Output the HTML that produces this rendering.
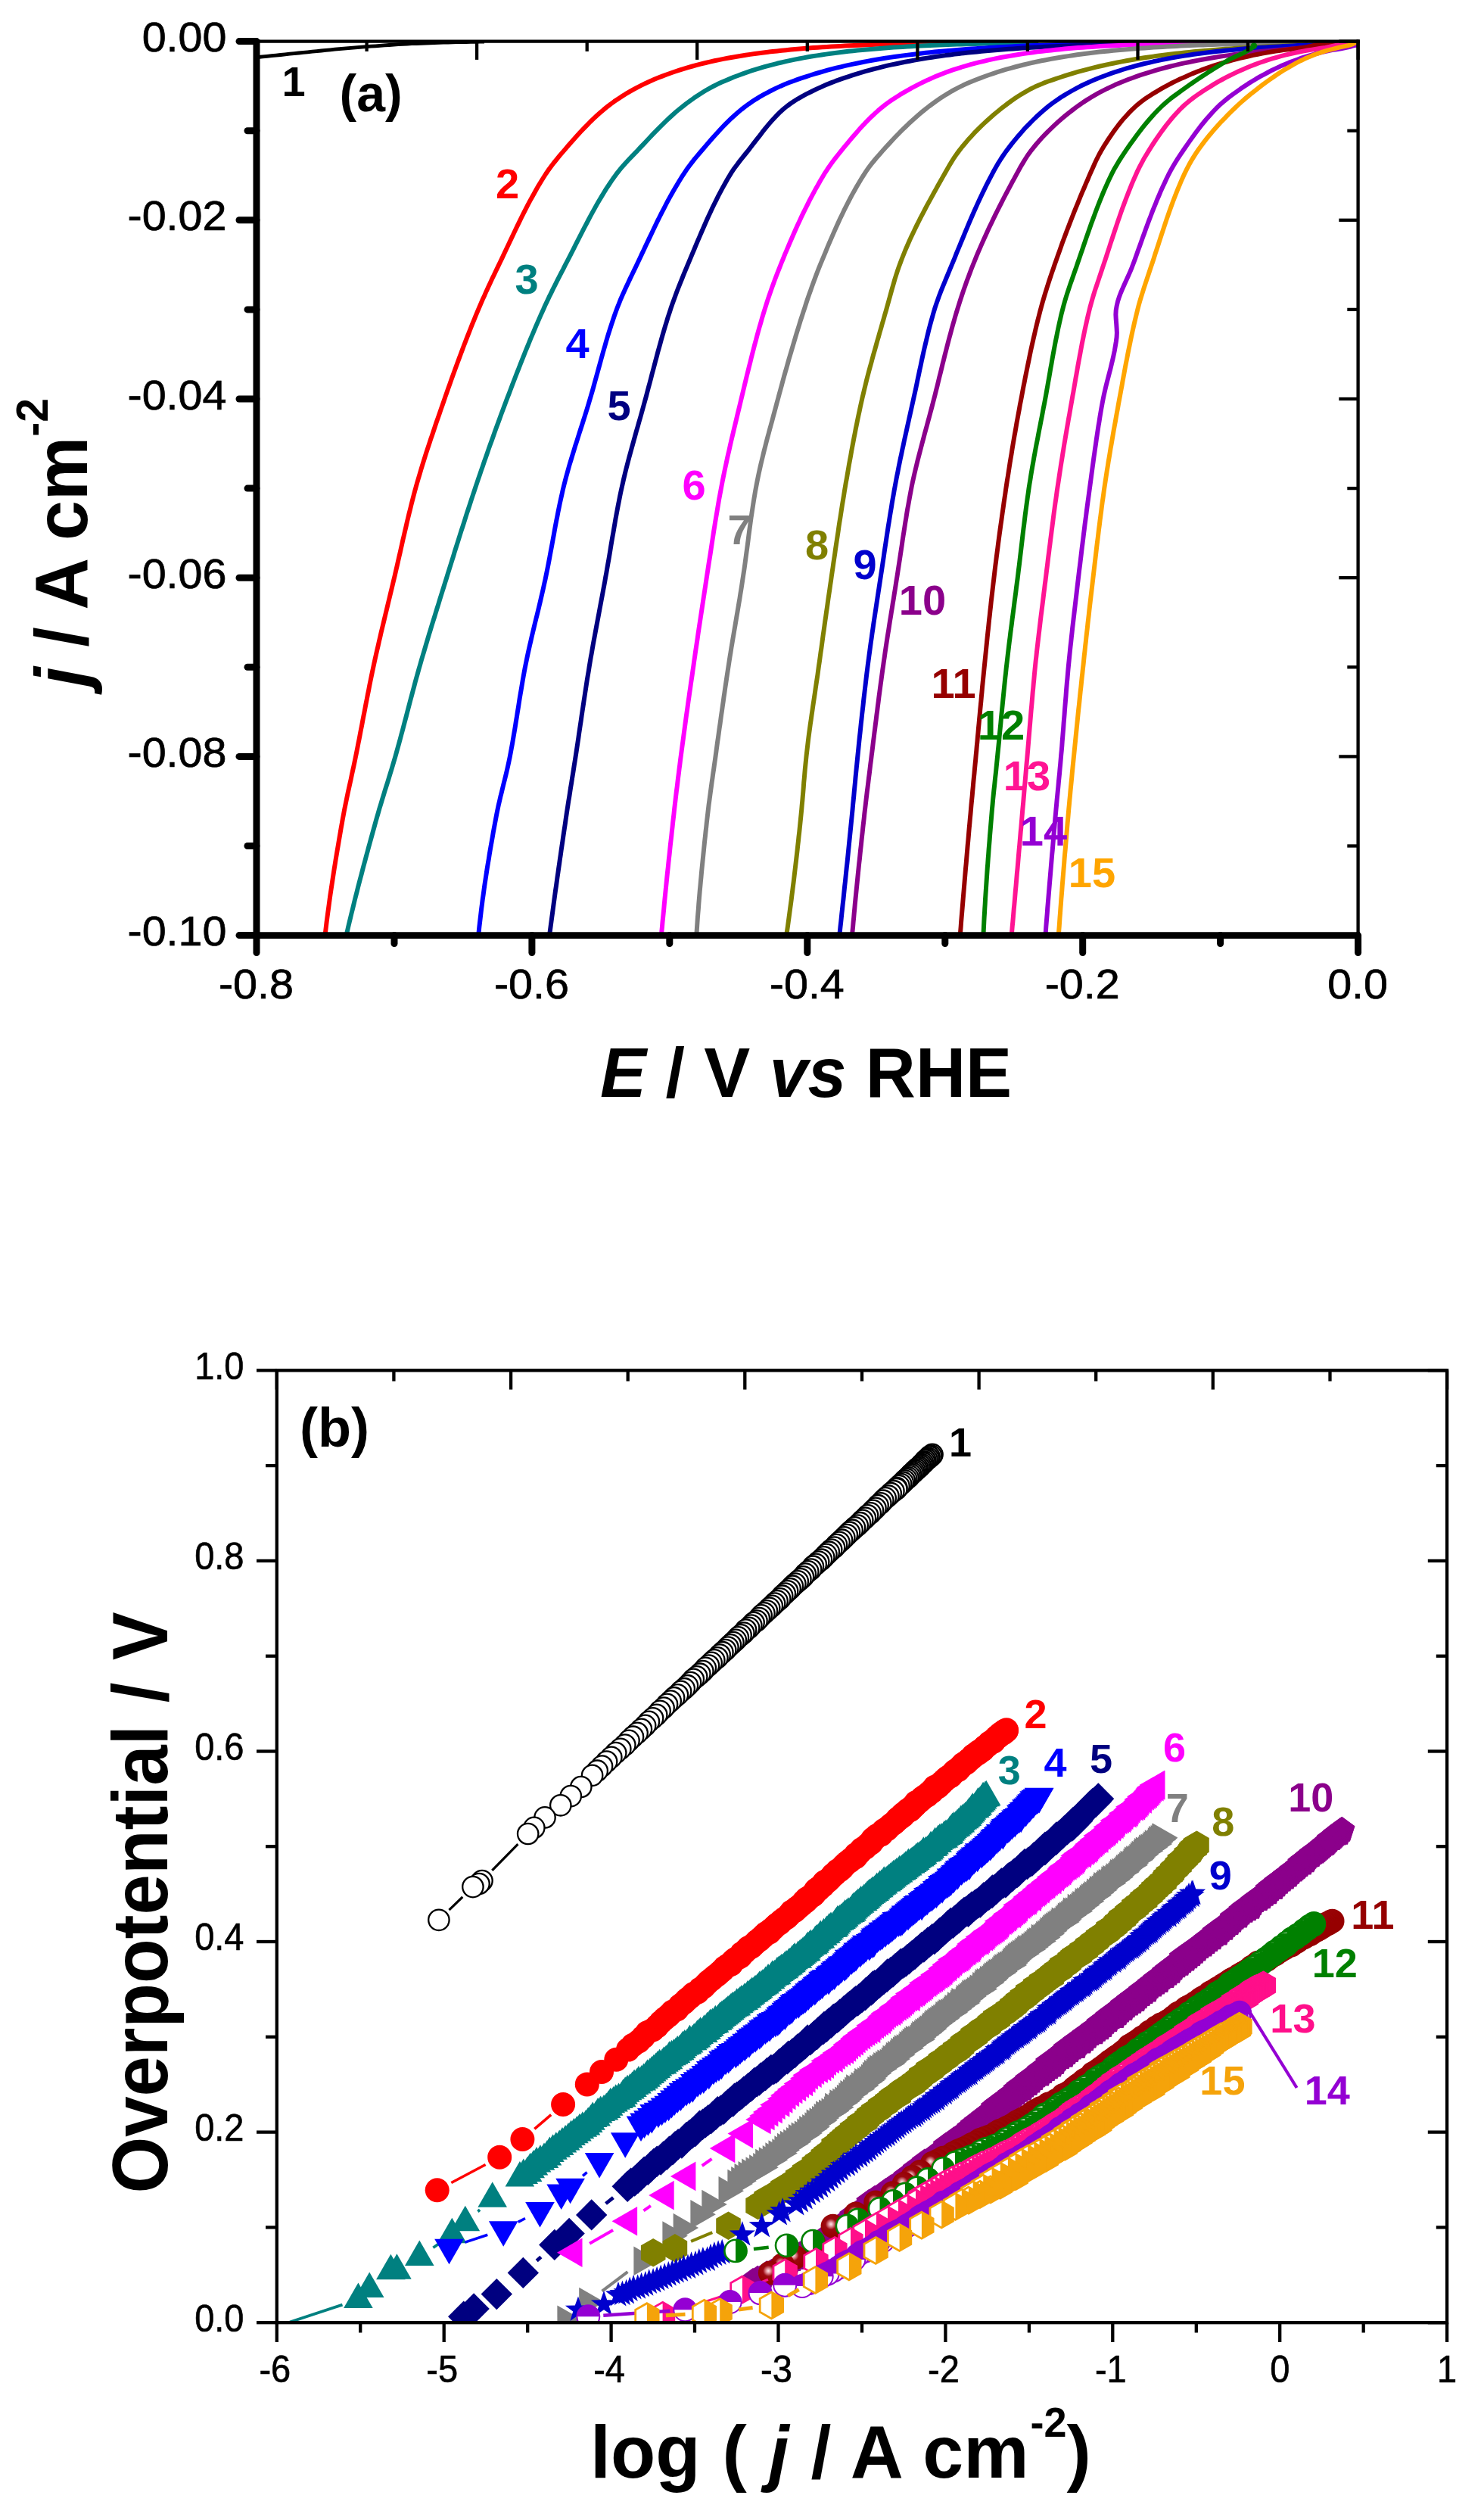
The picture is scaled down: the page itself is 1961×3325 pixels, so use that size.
<!DOCTYPE html>
<html><head><meta charset="utf-8"><title>Polarization curves and Tafel plots</title>
<style>html,body{margin:0;padding:0;background:#fff}svg{display:block}text{font-family:"Liberation Sans",sans-serif}.b{font-weight:bold}.bi{font-weight:bold;font-style:italic}</style></head><body>
<svg width="1961" height="3325" viewBox="0 0 1961 3325">
<rect width="1961" height="3325" fill="#fff"/>
<defs>
<radialGradient id="sg" cx="0.42" cy="0.42" r="0.5"><stop offset="0" stop-color="#fde8ea"/><stop offset="0.16" stop-color="#e8a0a8"/><stop offset="0.45" stop-color="#9c0810"/><stop offset="1" stop-color="#960000"/></radialGradient>
<marker id="m1" markerUnits="userSpaceOnUse" markerWidth="60" markerHeight="60" viewBox="-30 -30 60 60" refX="0" refY="0" orient="0" overflow="visible"><circle r="13.7" fill="#fff" stroke="#000000" stroke-width="2.3"/></marker>
<marker id="m2" markerUnits="userSpaceOnUse" markerWidth="60" markerHeight="60" viewBox="-30 -30 60 60" refX="0" refY="0" orient="0" overflow="visible"><circle r="16" fill="#FF0000"/></marker>
<marker id="m3" markerUnits="userSpaceOnUse" markerWidth="60" markerHeight="60" viewBox="-30 -30 60 60" refX="0" refY="0" orient="0" overflow="visible"><polygon points="0,-22.3 19.3,11.2 -19.3,11.2" fill="#008080"/></marker>
<marker id="m4" markerUnits="userSpaceOnUse" markerWidth="60" markerHeight="60" viewBox="-30 -30 60 60" refX="0" refY="0" orient="0" overflow="visible"><polygon points="0,22.3 19.3,-11.2 -19.3,-11.2" fill="#0000FF"/></marker>
<marker id="m5" markerUnits="userSpaceOnUse" markerWidth="60" markerHeight="60" viewBox="-30 -30 60 60" refX="0" refY="0" orient="0" overflow="visible"><polygon points="0,-20.7 20.7,0 0,20.7 -20.7,0" fill="#000080"/></marker>
<marker id="m6" markerUnits="userSpaceOnUse" markerWidth="60" markerHeight="60" viewBox="-30 -30 60 60" refX="0" refY="0" orient="0" overflow="visible"><polygon points="-22.3,0 11.2,-19.3 11.2,19.3" fill="#FF00FF"/></marker>
<marker id="m7" markerUnits="userSpaceOnUse" markerWidth="60" markerHeight="60" viewBox="-30 -30 60 60" refX="0" refY="0" orient="0" overflow="visible"><polygon points="22.3,0 -11.2,-19.3 -11.2,19.3" fill="#808080"/></marker>
<marker id="m8" markerUnits="userSpaceOnUse" markerWidth="60" markerHeight="60" viewBox="-30 -30 60 60" refX="0" refY="0" orient="0" overflow="visible"><polygon points="0,-18.8 16.3,-9.4 16.3,9.4 0,18.8 -16.3,9.4 -16.3,-9.4" fill="#808000"/></marker>
<marker id="m9" markerUnits="userSpaceOnUse" markerWidth="60" markerHeight="60" viewBox="-30 -30 60 60" refX="0" refY="0" orient="0" overflow="visible"><polygon points="0,-18 4.2,-5.8 17.1,-5.6 6.8,2.2 10.6,14.6 0,7.2 -10.6,14.6 -6.8,2.2 -17.1,-5.6 -4.2,-5.8" fill="#0000CD"/></marker>
<marker id="m10" markerUnits="userSpaceOnUse" markerWidth="60" markerHeight="60" viewBox="-30 -30 60 60" refX="0" refY="0" orient="0" overflow="visible"><polygon points="0,-18 17.1,-5.6 10.6,14.6 -10.6,14.6 -17.1,-5.6" fill="#8B008B"/></marker>
<marker id="m11" markerUnits="userSpaceOnUse" markerWidth="60" markerHeight="60" viewBox="-30 -30 60 60" refX="0" refY="0" orient="0" overflow="visible"><circle r="16" fill="url(#sg)"/></marker>
<marker id="m12" markerUnits="userSpaceOnUse" markerWidth="60" markerHeight="60" viewBox="-30 -30 60 60" refX="0" refY="0" orient="0" overflow="visible"><circle r="14.6" fill="#fff" stroke="#008000" stroke-width="2.6"/><path d="M0,-14.6A14.6,14.6 0 0 1 0,14.6Z" fill="#008000"/></marker>
<marker id="m13" markerUnits="userSpaceOnUse" markerWidth="60" markerHeight="60" viewBox="-30 -30 60 60" refX="0" refY="0" orient="0" overflow="visible"><polygon points="0,-17.5 15.2,-8.8 15.2,8.8 0,17.5 -15.2,8.8 -15.2,-8.8" fill="#fff" stroke="#FF0F8A" stroke-width="2.8" stroke-linejoin="miter"/><polygon points="0,-17.5 15.2,-8.8 15.2,8.8 0,17.5" fill="#FF0F8A"/></marker>
<marker id="m14" markerUnits="userSpaceOnUse" markerWidth="60" markerHeight="60" viewBox="-30 -30 60 60" refX="0" refY="0" orient="0" overflow="visible"><circle r="15" fill="#fff" stroke="#9400D3" stroke-width="2"/><path d="M-15,0A15,15 0 0 1 15,0Z" fill="#9400D3"/></marker>
<marker id="m15" markerUnits="userSpaceOnUse" markerWidth="60" markerHeight="60" viewBox="-30 -30 60 60" refX="0" refY="0" orient="0" overflow="visible"><polygon points="0,-17.5 15.2,-8.8 15.2,8.8 0,17.5 -15.2,8.8 -15.2,-8.8" fill="#fff" stroke="#F5A30A" stroke-width="2.8" stroke-linejoin="miter"/><polygon points="0,-17.5 15.2,-8.8 15.2,8.8 0,17.5" fill="#F5A30A"/></marker>
<clipPath id="cb"><rect x="365.8" y="1810.3" width="1586.3" height="1257.9"/></clipPath>
<clipPath id="ca"><rect x="339" y="53.4" width="1457.1" height="1184"/></clipPath>
</defs>
<g id="plot-a">
<g fill="none" stroke-width="6" stroke-linejoin="round" stroke-linecap="butt" clip-path="url(#ca)">
<polyline points="341,75.5 347,74.9 352.9,74.3 358.9,73.7 364.9,73.1 370.8,72.5 376.8,71.8 382.8,71.2 388.7,70.6 394.7,70 400.7,69.4 406.6,68.8 412.6,68.2 418.6,67.6 424.5,67 430.5,66.4 436.5,65.8 442.4,65.2 448.4,64.6 454.4,64.1 460.3,63.6 466.3,63.1 472.3,62.6 478.3,62.1 484.2,61.6 490.2,61.2 496.2,60.8 502.2,60.3 508.2,59.9 514.2,59.5 520.1,59.1 526.1,58.7 532.1,58.4 538.1,58 544.1,57.7 550.1,57.5 556.1,57.3 562.1,57.1 568.1,56.8 574,56.6 580,56.4 586,56.2 592,56.1 598,55.9 604,55.7 610,55.6 616,55.5 622,55.4 628,55.3 634,55.2 640,55.2" stroke="#000000" stroke-width="4.8"/>
<polyline points="429.5,1236 430.2,1230 430.9,1224.1 431.6,1218.1 432.4,1212.2 433.2,1206.2 434,1200.3 434.8,1194.4 435.6,1188.4 436.4,1182.5 437.3,1176.6 438.2,1170.6 439.1,1164.7 440,1158.8 440.9,1152.9 441.8,1147 442.8,1141 443.7,1135.1 444.7,1129.2 445.7,1123.3 446.7,1117.4 447.7,1111.5 448.7,1105.6 449.7,1099.7 450.7,1093.8 451.8,1087.9 452.8,1082 453.9,1076.2 455,1070.3 456.2,1064.4 457.4,1058.5 458.6,1052.7 459.8,1046.8 461.1,1041 462.4,1035.1 463.7,1029.3 464.9,1023.4 466.2,1017.5 467.5,1011.7 468.7,1005.8 469.9,1000 471.1,994.1 472.3,988.2 473.4,982.3 474.6,976.5 475.7,970.6 476.8,964.7 478,958.8 479.1,952.9 480.2,947 481.4,941.2 482.5,935.3 483.6,929.4 484.8,923.5 485.9,917.6 487.1,911.8 488.2,905.9 489.4,900 490.6,894.2 491.8,888.3 493.1,882.4 494.3,876.6 495.6,870.7 496.9,864.9 498.2,859.1 499.6,853.2 500.9,847.4 502.3,841.5 503.6,835.7 505,829.9 506.4,824.1 507.8,818.2 509.2,812.4 510.6,806.6 512,800.8 513.4,794.9 514.8,789.1 516.2,783.3 517.6,777.5 519,771.6 520.4,765.8 521.8,760 523.1,754.2 524.5,748.3 525.8,742.5 527.1,736.6 528.5,730.8 529.8,724.9 531.1,719.1 532.4,713.2 533.8,707.4 535.1,701.6 536.5,695.7 537.8,689.9 539.2,684.1 540.6,678.2 542.1,672.4 543.5,666.6 545,660.8 546.5,655 548,649.3 549.6,643.5 551.2,637.7 552.9,632 554.6,626.3 556.3,620.5 558,614.8 559.8,609.1 561.6,603.4 563.4,597.7 565.3,591.9 567.2,586.3 569,580.6 571,574.9 572.9,569.2 574.8,563.5 576.7,557.8 578.7,552.2 580.7,546.5 582.6,540.9 584.6,535.2 586.6,529.5 588.5,523.9 590.5,518.2 592.5,512.6 594.5,507 596.5,501.3 598.5,495.7 600.6,490 602.6,484.4 604.7,478.8 606.8,473.1 608.9,467.5 611,461.9 613.1,456.3 615.3,450.7 617.4,445.1 619.6,439.6 621.8,434 624,428.4 626.3,422.9 628.5,417.4 630.8,411.8 633.2,406.3 635.5,400.8 637.9,395.3 640.4,389.9 642.8,384.4 645.3,379 647.9,373.5 650.4,368.1 653,362.7 655.6,357.3 658.2,351.9 660.8,346.5 663.4,341.1 665.9,335.7 668.5,330.2 671.1,324.8 673.7,319.3 676.2,313.9 678.8,308.5 681.4,303 684,297.6 686.7,292.2 689.3,286.8 692,281.4 694.7,276.1 697.5,270.7 700.3,265.4 703.2,260.2 706.1,255 709,249.8 712,244.6 715.1,239.5 718.2,234.5 721.4,229.5 724.7,224.6 728.3,219.8 731.9,215 735.7,210.3 739.5,205.6 743.4,201.1 747.3,196.6 751.2,192 755.2,187.5 759.2,183 763.2,178.5 767.3,174 771.5,169.6 775.7,165.3 779.9,161 784.2,156.9 788.6,152.8 793.1,148.8 797.6,144.9 802.2,141.2 806.8,137.6 811.6,134.1 816.6,130.7 821.6,127.4 826.7,124.2 831.9,121.2 837.2,118.2 842.4,115.3 847.7,112.6 853.1,110 858.6,107.5 864.1,105.1 869.6,102.8 875.2,100.6 880.8,98.5 886.4,96.5 892.1,94.5 897.8,92.6 903.5,90.8 909.2,89.1 915,87.5 920.8,85.9 926.6,84.4 932.4,83 938.2,81.6 944.1,80.3 949.9,79.1 955.8,77.9 961.7,76.8 967.6,75.7 973.5,74.7 979.4,73.7 985.3,72.7 991.2,71.9 997.2,71 1003.1,70.2 1009,69.5 1015,68.7 1020.9,68 1026.9,67.4 1032.8,66.7 1038.8,66.2 1044.8,65.6 1050.7,65 1056.7,64.5 1062.7,64 1068.6,63.6 1074.6,63.1 1080.6,62.7 1086.6,62.3 1092.5,61.9 1098.5,61.6 1104.5,61.2 1110.5,60.9 1116.5,60.6 1122.4,60.3 1128.4,60 1134.4,59.8 1140.4,59.5 1146.4,59.3 1152.4,59 1158.3,58.8 1164.3,58.6 1170.3,58.4 1176.3,58.2 1182.3,58.1 1188.3,57.9 1194.3,57.8 1200.2,57.7 1206.2,57.5 1212.2,57.4 1218.2,57.2 1224.2,57 1230.2,56.8 1236.2,56.6 1242.1,56.3 1248.1,56 1254.1,55.8 1260.1,55.5 1266.1,55.1 1272.1,54.8" stroke="#FF0000"/>
<polyline points="457.5,1236 458.9,1230.2 460.2,1224.3 461.6,1218.5 463,1212.7 464.4,1206.9 465.9,1201 467.3,1195.2 468.7,1189.4 470.2,1183.6 471.7,1177.8 473.1,1172 474.6,1166.2 476.1,1160.4 477.7,1154.6 479.2,1148.8 480.7,1143.1 482.3,1137.3 483.8,1131.5 485.4,1125.7 486.9,1119.9 488.5,1114.2 490.1,1108.4 491.7,1102.6 493.3,1096.9 494.9,1091.1 496.5,1085.3 498.1,1079.6 499.8,1073.8 501.4,1068.1 503.2,1062.4 504.9,1056.6 506.7,1050.9 508.4,1045.2 510.2,1039.5 512,1033.8 513.8,1028 515.5,1022.3 517.3,1016.6 519,1010.9 520.7,1005.1 522.4,999.4 524,993.6 525.6,987.9 527.2,982.1 528.8,976.3 530.3,970.5 531.9,964.8 533.4,959 534.9,953.2 536.5,947.4 538,941.6 539.5,935.8 541,930 542.5,924.2 544.1,918.4 545.6,912.7 547.2,906.9 548.7,901.1 550.3,895.3 551.9,889.6 553.5,883.8 555.2,878 556.8,872.3 558.5,866.5 560.2,860.8 561.9,855.1 563.6,849.3 565.3,843.6 567,837.9 568.8,832.1 570.5,826.4 572.3,820.7 574.1,815 575.8,809.3 577.6,803.5 579.4,797.8 581.1,792.1 582.9,786.4 584.7,780.7 586.5,775 588.3,769.2 590.1,763.5 591.8,757.8 593.6,752.1 595.4,746.4 597.2,740.7 599,735 600.7,729.2 602.5,723.5 604.3,717.8 606.1,712.1 607.9,706.4 609.7,700.7 611.6,695 613.4,689.3 615.2,683.6 617,677.9 618.9,672.2 620.8,666.5 622.6,660.8 624.5,655.1 626.4,649.5 628.3,643.8 630.2,638.1 632.1,632.5 634.1,626.8 636,621.1 638,615.5 639.9,609.8 641.9,604.2 643.9,598.5 645.8,592.9 647.8,587.2 649.9,581.6 651.9,575.9 653.9,570.3 655.9,564.7 658,559.1 660.1,553.4 662.1,547.8 664.2,542.2 666.3,536.6 668.4,531 670.5,525.4 672.7,519.8 674.8,514.2 676.9,508.6 679.1,503 681.2,497.5 683.4,491.9 685.6,486.3 687.8,480.7 690,475.1 692.2,469.6 694.4,464 696.7,458.5 699,452.9 701.2,447.4 703.6,441.9 705.9,436.4 708.2,430.9 710.6,425.4 713,419.9 715.4,414.4 717.9,409 720.3,403.5 722.9,398.1 725.4,392.7 728.1,387.3 730.7,381.9 733.4,376.6 736.1,371.2 738.8,365.9 741.5,360.6 744.3,355.3 747,349.9 749.8,344.6 752.5,339.3 755.3,333.9 758,328.6 760.7,323.2 763.4,317.8 766.2,312.4 768.9,307.1 771.7,301.7 774.5,296.3 777.3,291 780.1,285.7 783,280.4 785.9,275.1 788.8,269.9 791.8,264.7 794.9,259.6 798,254.5 801.1,249.4 804.4,244.5 807.6,239.6 811,234.7 814.5,229.9 818.1,225.3 821.9,220.7 825.9,216.2 830,211.8 834.2,207.4 838.3,203.1 842.5,198.8 846.6,194.4 850.7,190.1 854.8,185.7 859,181.3 863.1,176.9 867.3,172.6 871.5,168.3 875.8,164.1 880.1,159.9 884.5,155.8 888.9,151.7 893.3,147.8 897.9,144 902.5,140.3 907.2,136.6 912,133.1 916.9,129.6 921.9,126.2 926.9,123 932.1,119.8 937.2,116.8 942.5,114 947.8,111.3 953.2,108.8 958.7,106.4 964.3,104.1 969.8,101.8 975.4,99.7 981,97.6 986.7,95.6 992.3,93.7 998,91.9 1003.8,90.1 1009.5,88.4 1015.3,86.8 1021.1,85.3 1026.9,83.8 1032.7,82.5 1038.5,81.1 1044.4,79.9 1050.2,78.6 1056.1,77.5 1062,76.4 1067.9,75.3 1073.8,74.3 1079.7,73.4 1085.6,72.5 1091.5,71.6 1097.5,70.8 1103.4,70 1109.3,69.2 1115.3,68.5 1121.2,67.8 1127.2,67.2 1133.1,66.6 1139.1,66 1145.1,65.4 1151,64.9 1157,64.4 1163,63.9 1168.9,63.5 1174.9,63 1180.9,62.6 1186.8,62.2 1192.8,61.9 1198.8,61.5 1204.8,61.2 1210.7,60.8 1216.7,60.5 1222.7,60.3 1228.7,60 1234.6,59.7 1240.6,59.5 1246.6,59.2 1252.6,59 1258.6,58.8 1264.6,58.6 1270.5,58.4 1276.5,58.2 1282.5,58.1 1288.5,57.9 1294.5,57.8 1300.5,57.6 1306.4,57.5 1312.4,57.4 1318.4,57.2 1324.4,57 1330.4,56.8 1336.3,56.6 1342.3,56.3 1348.3,56 1354.3,55.8 1360.3,55.4 1366.2,55.1 1372.2,54.8" stroke="#008080"/>
<polyline points="632.2,1236 632.8,1230 633.4,1224 634.1,1218.1 634.8,1212.1 635.5,1206.1 636.2,1200.2 637,1194.2 637.7,1188.3 638.6,1182.3 639.4,1176.4 640.2,1170.5 641.1,1164.5 642,1158.6 642.9,1152.7 643.8,1146.8 644.8,1140.8 645.8,1134.9 646.7,1129 647.7,1123.1 648.7,1117.2 649.8,1111.3 650.8,1105.4 651.8,1099.5 652.9,1093.6 654,1087.7 655.1,1081.9 656.2,1076 657.4,1070.1 658.6,1064.3 660,1058.4 661.3,1052.6 662.8,1046.8 664.2,1040.9 665.6,1035.1 667.1,1029.3 668.5,1023.5 669.9,1017.6 671.2,1011.8 672.5,1005.9 673.7,1000.1 674.8,994.2 675.9,988.3 677,982.4 678,976.5 679,970.6 680,964.7 681,958.8 681.9,952.8 682.9,946.9 683.8,941 684.8,935.1 685.7,929.1 686.6,923.2 687.6,917.3 688.6,911.4 689.6,905.5 690.6,899.6 691.6,893.7 692.7,887.8 693.8,881.9 695,876 696.2,870.2 697.4,864.3 698.7,858.5 700,852.6 701.4,846.8 702.7,840.9 704.1,835.1 705.5,829.3 706.9,823.4 708.3,817.6 709.8,811.8 711.2,806 712.6,800.1 714,794.3 715.3,788.5 716.7,782.6 718,776.8 719.3,770.9 720.6,765.1 721.8,759.2 723,753.3 724.2,747.4 725.3,741.6 726.4,735.7 727.5,729.8 728.6,723.9 729.7,718 730.8,712 731.9,706.1 732.9,700.2 734,694.3 735.1,688.5 736.3,682.6 737.4,676.7 738.6,670.8 739.8,665 741.1,659.1 742.4,653.3 743.7,647.4 745.1,641.6 746.6,635.8 748.1,630.1 749.7,624.3 751.3,618.5 752.9,612.8 754.7,607 756.4,601.3 758.2,595.6 759.9,589.8 761.8,584.1 763.6,578.4 765.4,572.7 767.2,567 769.1,561.2 770.9,555.5 772.7,549.8 774.5,544.1 776.3,538.3 778,532.6 779.7,526.9 781.4,521.1 783.1,515.3 784.7,509.6 786.3,503.8 787.9,498 789.5,492.2 791.1,486.4 792.7,480.6 794.3,474.8 795.9,469 797.5,463.2 799.2,457.5 800.8,451.7 802.5,446 804.3,440.2 806.1,434.5 807.9,428.8 809.8,423.2 811.7,417.5 813.7,411.9 815.8,406.3 818,400.8 820.2,395.2 822.6,389.7 825.1,384.3 827.6,378.8 830.1,373.4 832.7,367.9 835.3,362.5 837.9,357.1 840.5,351.7 843.1,346.3 845.6,340.9 848.2,335.4 850.8,330 853.3,324.5 855.9,319.1 858.5,313.6 861.1,308.2 863.7,302.8 866.3,297.3 868.9,291.9 871.6,286.5 874.3,281.1 877.1,275.8 879.8,270.5 882.6,265.2 885.5,259.9 888.4,254.7 891.4,249.5 894.4,244.4 897.5,239.3 900.6,234.2 903.8,229.3 907.1,224.3 910.6,219.5 914.3,214.7 918,209.9 921.8,205.3 925.7,200.7 929.6,196.2 933.5,191.6 937.5,187 941.4,182.5 945.5,178 949.6,173.5 953.7,169 957.9,164.7 962.2,160.4 966.5,156.2 970.9,152.2 975.4,148.2 979.9,144.5 984.6,140.9 989.3,137.4 994.2,134.1 999.2,130.8 1004.4,127.7 1009.7,124.7 1015,121.8 1020.4,119 1025.8,116.4 1031.2,113.9 1036.7,111.5 1042.2,109.3 1047.9,107.2 1053.5,105.2 1059.2,103.2 1064.9,101.3 1070.6,99.5 1076.3,97.7 1082.1,96 1087.8,94.3 1093.6,92.7 1099.4,91.2 1105.2,89.7 1111,88.3 1116.9,86.9 1122.7,85.6 1128.6,84.4 1134.4,83.2 1140.3,82 1146.2,80.9 1152.1,79.8 1158,78.8 1163.9,77.8 1169.8,76.8 1175.8,75.9 1181.7,75 1187.6,74.2 1193.6,73.4 1199.5,72.6 1205.5,71.9 1211.4,71.2 1217.4,70.5 1223.3,69.8 1229.3,69.2 1235.2,68.6 1241.2,68 1247.2,67.4 1253.1,66.9 1259.1,66.4 1265.1,65.9 1271.1,65.5 1277,65 1283,64.6 1289,64.2 1295,63.8 1301,63.4 1306.9,63 1312.9,62.7 1318.9,62.3 1324.9,62 1330.9,61.7 1336.9,61.4 1342.9,61.1 1348.8,60.8 1354.8,60.6 1360.8,60.3 1366.8,60.1 1372.8,59.9 1378.8,59.7 1384.8,59.5 1390.8,59.2 1396.8,59.1 1402.7,58.9 1408.7,58.7 1414.7,58.5 1420.7,58.4 1426.7,58.2 1432.7,58.1 1438.7,58 1444.7,57.8 1450.7,57.7 1456.7,57.6 1462.7,57.5 1468.6,57.4 1474.6,57.2 1480.6,57.1 1486.6,56.9 1492.6,56.7 1498.6,56.5 1504.6,56.3 1510.6,56.1 1516.6,55.9 1522.6,55.6 1528.5,55.3 1534.5,55.1 1540.5,54.8" stroke="#0000FF"/>
<polyline points="726,1236 726.8,1230.1 727.6,1224.1 728.4,1218.2 729.2,1212.2 730,1206.3 730.8,1200.4 731.6,1194.4 732.4,1188.5 733.2,1182.6 734,1176.6 734.9,1170.7 735.7,1164.8 736.5,1158.8 737.4,1152.9 738.2,1147 739.1,1141 739.9,1135.1 740.8,1129.2 741.6,1123.3 742.5,1117.3 743.4,1111.4 744.2,1105.5 745.1,1099.5 746,1093.6 746.9,1087.7 747.7,1081.8 748.6,1075.8 749.5,1069.9 750.4,1064 751.3,1058.1 752.3,1052.2 753.2,1046.2 754.1,1040.3 755.1,1034.4 756,1028.5 757,1022.6 757.9,1016.7 758.8,1010.7 759.8,1004.8 760.7,998.9 761.6,993 762.5,987.1 763.4,981.1 764.3,975.2 765.1,969.3 766,963.4 766.9,957.4 767.8,951.5 768.6,945.6 769.5,939.6 770.4,933.7 771.3,927.8 772.2,921.9 773.1,915.9 774,910 774.9,904.1 775.8,898.2 776.8,892.3 777.8,886.4 778.7,880.5 779.7,874.5 780.7,868.6 781.8,862.7 782.8,856.8 783.8,850.9 784.9,845.1 786,839.2 787.1,833.3 788.2,827.4 789.3,821.5 790.4,815.6 791.5,809.7 792.6,803.8 793.7,797.9 794.8,792 795.9,786.2 797,780.3 798.1,774.4 799.2,768.5 800.2,762.6 801.3,756.7 802.3,750.8 803.3,744.9 804.4,739 805.4,733.1 806.4,727.1 807.3,721.2 808.3,715.3 809.3,709.4 810.4,703.5 811.4,697.6 812.4,691.7 813.4,685.8 814.5,679.9 815.6,674 816.7,668.1 817.9,662.2 819,656.4 820.2,650.5 821.5,644.7 822.8,638.8 824.1,633 825.5,627.2 826.9,621.4 828.4,615.6 829.9,609.8 831.4,604 833,598.2 834.6,592.4 836.2,586.6 837.8,580.9 839.4,575.1 841,569.3 842.7,563.6 844.3,557.8 846,552 847.6,546.2 849.2,540.5 850.8,534.7 852.4,528.9 854,523.1 855.5,517.3 857,511.5 858.6,505.7 860.1,499.9 861.6,494.1 863.2,488.3 864.7,482.5 866.2,476.7 867.8,470.9 869.3,465.1 870.9,459.4 872.5,453.6 874.1,447.8 875.7,442.1 877.4,436.3 879.1,430.6 880.9,424.9 882.6,419.1 884.5,413.5 886.3,407.8 888.3,402.1 890.3,396.5 892.3,390.9 894.4,385.3 896.6,379.7 898.8,374.1 901.1,368.5 903.3,362.9 905.6,357.4 907.9,351.9 910.2,346.4 912.5,340.8 914.8,335.3 917.2,329.7 919.5,324.2 921.8,318.6 924.2,313.1 926.6,307.5 929,302 931.4,296.5 933.8,291 936.3,285.5 938.9,280 941.4,274.6 944,269.2 946.7,263.8 949.4,258.4 952.2,253.2 955,247.9 957.9,242.7 960.8,237.6 963.8,232.5 966.9,227.4 970.2,222.5 973.8,217.7 977.4,212.9 981.2,208.1 984.9,203.5 988.7,198.8 992.4,194 996.1,189.2 999.8,184.4 1003.6,179.6 1007.3,174.7 1011.1,169.9 1015,165.2 1018.9,160.6 1022.9,156.2 1027,151.9 1031.2,147.7 1035.6,143.8 1040,140.2 1044.7,136.8 1049.6,133.5 1054.7,130.3 1059.9,127.3 1065.3,124.4 1070.7,121.7 1076.2,119 1081.7,116.4 1087.1,114 1092.6,111.6 1098.1,109.4 1103.8,107.2 1109.4,105.2 1115.1,103.2 1120.7,101.3 1126.4,99.4 1132.1,97.6 1137.9,95.9 1143.6,94.2 1149.4,92.6 1155.2,91 1161,89.6 1166.8,88.1 1172.7,86.7 1178.5,85.4 1184.4,84.2 1190.2,83 1196.1,81.8 1202,80.7 1207.9,79.6 1213.8,78.5 1219.7,77.5 1225.6,76.6 1231.5,75.7 1237.4,74.8 1243.4,74 1249.3,73.1 1255.3,72.4 1261.2,71.6 1267.1,70.9 1273.1,70.2 1279.1,69.6 1285,69 1291,68.4 1296.9,67.8 1302.9,67.2 1308.9,66.7 1314.8,66.2 1320.8,65.7 1326.8,65.2 1332.8,64.8 1338.7,64.4 1344.7,64 1350.7,63.6 1356.7,63.2 1362.6,62.8 1368.6,62.5 1374.6,62.2 1380.6,61.8 1386.6,61.5 1392.6,61.2 1398.5,61 1404.5,60.7 1410.5,60.4 1416.5,60.2 1422.5,60 1428.5,59.7 1434.5,59.5 1440.4,59.3 1446.4,59.1 1452.4,58.9 1458.4,58.7 1464.4,58.6 1470.4,58.4 1476.4,58.2 1482.4,58.1 1488.4,58 1494.3,57.9 1500.3,57.8 1506.3,57.6 1512.3,57.5 1518.3,57.4 1524.3,57.3 1530.3,57.1 1536.3,56.9 1542.3,56.8 1548.2,56.6 1554.2,56.3 1560.2,56.1 1566.2,55.9 1572.2,55.6 1578.2,55.4 1584.2,55.1 1590.1,54.8" stroke="#000080"/>
<polyline points="873.9,1236 874.4,1230 875,1224.1 875.5,1218.1 876.1,1212.1 876.7,1206.2 877.3,1200.2 877.8,1194.2 878.4,1188.2 879,1182.3 879.6,1176.3 880.2,1170.4 880.8,1164.4 881.4,1158.4 882,1152.5 882.7,1146.5 883.3,1140.5 883.9,1134.6 884.6,1128.6 885.2,1122.7 885.8,1116.7 886.5,1110.7 887.2,1104.8 887.8,1098.8 888.5,1092.9 889.1,1086.9 889.8,1080.9 890.5,1075 891.1,1069 891.8,1063.1 892.5,1057.1 893.2,1051.2 893.9,1045.2 894.7,1039.3 895.4,1033.3 896.1,1027.4 896.9,1021.4 897.6,1015.5 898.4,1009.5 899.1,1003.6 899.9,997.6 900.7,991.7 901.5,985.7 902.3,979.8 903.1,973.9 903.9,967.9 904.7,962 905.5,956 906.3,950.1 907.1,944.2 908,938.2 908.8,932.3 909.6,926.4 910.5,920.4 911.3,914.5 912.2,908.6 913,902.6 913.9,896.7 914.8,890.7 915.6,884.8 916.5,878.9 917.3,872.9 918.2,867 919,861.1 919.9,855.2 920.8,849.2 921.7,843.3 922.5,837.4 923.4,831.4 924.3,825.5 925.2,819.6 926.1,813.6 927,807.7 927.9,801.8 928.8,795.9 929.7,789.9 930.6,784 931.5,778.1 932.4,772.2 933.3,766.2 934.2,760.3 935.1,754.4 936,748.5 936.9,742.5 937.9,736.6 938.8,730.7 939.7,724.7 940.6,718.8 941.5,712.9 942.4,707 943.3,701 944.3,695.1 945.2,689.2 946.2,683.3 947.2,677.4 948.2,671.4 949.2,665.5 950.2,659.6 951.3,653.7 952.4,647.9 953.5,642 954.6,636.1 955.8,630.2 957,624.4 958.2,618.5 959.5,612.6 960.7,606.8 962,600.9 963.4,595.1 964.7,589.2 966,583.4 967.4,577.5 968.8,571.7 970.2,565.8 971.6,560 973,554.2 974.4,548.3 975.8,542.5 977.2,536.7 978.6,530.9 980,525 981.4,519.2 982.8,513.4 984.2,507.5 985.6,501.7 987,495.9 988.5,490.1 989.9,484.2 991.4,478.4 992.8,472.6 994.3,466.8 995.8,461 997.3,455.1 998.9,449.4 1000.4,443.6 1002,437.8 1003.6,432 1005.3,426.3 1006.9,420.5 1008.6,414.8 1010.4,409.1 1012.2,403.4 1014,397.6 1015.9,392 1017.9,386.3 1019.9,380.6 1021.9,375 1024,369.3 1026.1,363.7 1028.3,358.1 1030.5,352.6 1032.7,347 1035,341.5 1037.2,335.9 1039.6,330.4 1041.9,324.8 1044.3,319.3 1046.7,313.8 1049.1,308.3 1051.5,302.7 1054,297.3 1056.6,291.8 1059.1,286.3 1061.7,280.9 1064.4,275.5 1067.1,270.1 1069.8,264.7 1072.6,259.4 1075.4,254.1 1078.2,248.9 1081.2,243.7 1084.1,238.5 1087.1,233.4 1090.2,228.3 1093.5,223.3 1096.9,218.4 1100.4,213.5 1104.1,208.7 1107.8,204 1111.5,199.3 1115.3,194.7 1119.1,190.1 1123,185.4 1126.9,180.8 1130.9,176.2 1134.9,171.6 1139,167.1 1143.1,162.7 1147.3,158.4 1151.5,154.2 1155.9,150.1 1160.3,146.1 1164.8,142.3 1169.4,138.6 1174.1,135.1 1179,131.7 1184.1,128.4 1189.2,125.2 1194.4,122.1 1199.7,119.1 1204.9,116.2 1210.2,113.4 1215.5,110.6 1220.9,108 1226.3,105.4 1231.8,103 1237.3,100.6 1242.9,98.4 1248.5,96.2 1254.1,94.2 1259.8,92.2 1265.5,90.3 1271.2,88.5 1277,86.8 1282.7,85.2 1288.5,83.7 1294.3,82.2 1300.2,80.8 1306,79.4 1311.9,78.1 1317.7,76.9 1323.6,75.8 1329.5,74.7 1335.4,73.7 1341.3,72.7 1347.2,71.7 1353.2,70.8 1359.1,70 1365.1,69.2 1371,68.4 1377,67.7 1382.9,67 1388.9,66.4 1394.8,65.8 1400.8,65.2 1406.8,64.6 1412.7,64.1 1418.7,63.6 1424.7,63.1 1430.7,62.7 1436.6,62.3 1442.6,61.9 1448.6,61.5 1454.6,61.1 1460.6,60.8 1466.6,60.5 1472.6,60.2 1478.5,59.9 1484.5,59.6 1490.5,59.3 1496.5,59.1 1502.5,58.8 1508.5,58.6 1514.5,58.4 1520.5,58.2 1526.5,58.1 1532.5,57.9 1538.5,57.8 1544.4,57.6 1550.4,57.5 1556.4,57.3 1562.4,57.1 1568.4,56.9 1574.4,56.7 1580.4,56.4 1586.4,56.1 1592.4,55.8 1598.4,55.5 1604.3,55.2 1610.3,54.8" stroke="#FF00FF"/>
<polyline points="920.3,1236 920.7,1230 921.1,1224 921.5,1218.1 921.9,1212.1 922.4,1206.1 922.9,1200.2 923.3,1194.2 923.8,1188.2 924.3,1182.3 924.8,1176.3 925.4,1170.3 925.9,1164.4 926.5,1158.4 927,1152.4 927.6,1146.5 928.2,1140.5 928.8,1134.6 929.4,1128.6 930,1122.7 930.6,1116.7 931.2,1110.8 931.9,1104.8 932.5,1098.9 933.2,1092.9 933.8,1087 934.5,1081 935.2,1075.1 935.9,1069.2 936.6,1063.2 937.4,1057.3 938.2,1051.4 939,1045.4 939.8,1039.5 940.6,1033.6 941.5,1027.6 942.3,1021.7 943.2,1015.8 944,1009.9 944.9,1003.9 945.7,998 946.5,992.1 947.3,986.1 948.1,980.2 949,974.3 949.8,968.4 950.6,962.4 951.5,956.5 952.3,950.6 953.1,944.6 954,938.7 954.8,932.8 955.7,926.9 956.5,920.9 957.4,915 958.2,909.1 959.1,903.2 960,897.3 960.9,891.3 961.8,885.4 962.7,879.5 963.6,873.6 964.5,867.7 965.5,861.8 966.4,855.9 967.4,850 968.4,844.1 969.4,838.2 970.4,832.3 971.4,826.4 972.4,820.5 973.4,814.6 974.4,808.7 975.4,802.8 976.4,796.8 977.4,790.9 978.3,785 979.3,779.1 980.2,773.2 981.1,767.3 982,761.4 982.9,755.5 983.8,749.5 984.6,743.6 985.4,737.7 986.2,731.7 987,725.8 987.8,719.8 988.6,713.9 989.3,708 990.1,702 990.9,696.1 991.7,690.1 992.5,684.2 993.4,678.3 994.3,672.4 995.2,666.5 996.1,660.6 997.1,654.7 998.1,648.8 999.2,642.9 1000.3,637.1 1001.5,631.2 1002.7,625.4 1004,619.5 1005.3,613.7 1006.7,607.9 1008.1,602.1 1009.5,596.2 1011,590.4 1012.5,584.6 1014,578.8 1015.6,573 1017.1,567.2 1018.7,561.5 1020.3,555.7 1021.8,549.9 1023.4,544.1 1025,538.3 1026.5,532.5 1028.1,526.8 1029.6,521 1031.2,515.2 1032.8,509.4 1034.3,503.7 1035.9,497.9 1037.5,492.1 1039.2,486.4 1040.8,480.6 1042.4,474.8 1044.1,469.1 1045.8,463.3 1047.5,457.6 1049.2,451.8 1050.9,446.1 1052.6,440.4 1054.4,434.7 1056.2,428.9 1057.9,423.2 1059.8,417.5 1061.6,411.9 1063.5,406.2 1065.3,400.5 1067.2,394.8 1069.2,389.1 1071.2,383.5 1073.2,377.8 1075.2,372.2 1077.3,366.6 1079.4,361 1081.6,355.4 1083.8,349.9 1086.1,344.4 1088.4,338.8 1090.7,333.3 1093,327.7 1095.3,322.2 1097.7,316.6 1100.1,311.1 1102.5,305.6 1105,300.1 1107.5,294.6 1110,289.1 1112.6,283.7 1115.2,278.2 1117.9,272.9 1120.6,267.5 1123.4,262.2 1126.2,256.9 1129.1,251.7 1132,246.5 1135,241.4 1138.1,236.3 1141.2,231.3 1144.4,226.4 1147.8,221.5 1151.5,216.7 1155.3,212 1159.1,207.4 1163.1,202.9 1167,198.4 1171,194 1175.1,189.6 1179.1,185.2 1183.3,180.8 1187.5,176.5 1191.7,172.2 1196.1,168 1200.4,163.8 1204.8,159.7 1209.3,155.7 1213.8,151.7 1218.3,147.9 1223,144.1 1227.6,140.5 1232.4,137 1237.2,133.5 1242.2,130.1 1247.2,126.8 1252.4,123.6 1257.5,120.5 1262.8,117.6 1268.1,114.9 1273.4,112.3 1278.9,109.8 1284.4,107.5 1290,105.2 1295.6,103.1 1301.2,101 1306.8,99 1312.5,97.1 1318.2,95.2 1323.9,93.4 1329.6,91.7 1335.4,90.1 1341.1,88.5 1346.9,87 1352.8,85.5 1358.6,84.1 1364.4,82.8 1370.3,81.5 1376.1,80.3 1382,79.2 1387.9,78 1393.8,77 1399.7,76 1405.6,75 1411.5,74.1 1417.4,73.2 1423.3,72.3 1429.3,71.5 1435.2,70.8 1441.1,70 1447.1,69.3 1453,68.6 1459,68 1464.9,67.4 1470.9,66.8 1476.8,66.2 1482.8,65.7 1488.8,65.2 1494.7,64.7 1500.7,64.2 1506.7,63.8 1512.6,63.4 1518.6,63 1524.6,62.6 1530.6,62.2 1536.5,61.9 1542.5,61.5 1548.5,61.2 1554.5,60.9 1560.4,60.6 1566.4,60.3 1572.4,60.1 1578.4,59.8 1584.4,59.6 1590.3,59.4 1596.3,59.1 1602.3,58.9 1608.3,58.7 1614.3,58.5 1620.2,58.4 1626.2,58.2 1632.2,58.1 1638.2,57.9 1644.2,57.8 1650.2,57.7 1656.1,57.5 1662.1,57.4 1668.1,57.3 1674.1,57.1 1680.1,56.9 1686.1,56.7 1692,56.5 1698,56.2 1704,56 1710,55.7 1716,55.4 1721.9,55.1 1727.9,54.8" stroke="#808080"/>
<polyline points="1039.2,1236 1040,1230.1 1040.9,1224.1 1041.7,1218.2 1042.5,1212.3 1043.3,1206.4 1044.1,1200.4 1044.9,1194.5 1045.7,1188.6 1046.4,1182.6 1047.2,1176.7 1047.9,1170.8 1048.7,1164.8 1049.4,1158.9 1050.1,1152.9 1050.8,1147 1051.5,1141.1 1052.2,1135.1 1052.9,1129.2 1053.6,1123.2 1054.2,1117.3 1054.9,1111.4 1055.5,1105.4 1056.2,1099.5 1056.8,1093.5 1057.4,1087.6 1058,1081.6 1058.6,1075.7 1059.2,1069.7 1059.7,1063.8 1060.3,1057.8 1060.8,1051.8 1061.3,1045.9 1061.8,1039.9 1062.2,1033.9 1062.8,1028 1063.3,1022 1063.8,1016.1 1064.4,1010.1 1065,1004.2 1065.6,998.2 1066.3,992.3 1067,986.3 1067.7,980.4 1068.4,974.5 1069.2,968.5 1070,962.6 1070.8,956.7 1071.7,950.8 1072.5,944.8 1073.4,938.9 1074.2,933 1075.1,927.1 1076,921.2 1076.9,915.2 1077.7,909.3 1078.6,903.4 1079.5,897.5 1080.4,891.6 1081.2,885.6 1082,879.7 1082.9,873.8 1083.7,867.9 1084.5,861.9 1085.4,856 1086.2,850.1 1087,844.2 1087.8,838.2 1088.7,832.3 1089.5,826.4 1090.3,820.5 1091.2,814.5 1092,808.6 1092.9,802.7 1093.7,796.8 1094.5,790.9 1095.4,784.9 1096.3,779 1097.1,773.1 1098,767.2 1098.8,761.3 1099.7,755.3 1100.6,749.4 1101.4,743.5 1102.3,737.6 1103.2,731.7 1104,725.7 1104.9,719.8 1105.8,713.9 1106.7,708 1107.6,702.1 1108.4,696.2 1109.3,690.2 1110.3,684.3 1111.2,678.4 1112.1,672.5 1113,666.6 1114,660.7 1115,654.8 1115.9,648.9 1116.9,643 1117.9,637.1 1119,631.2 1120,625.3 1121,619.4 1122,613.5 1123.1,607.6 1124.2,601.7 1125.2,595.8 1126.3,590 1127.4,584.1 1128.5,578.2 1129.7,572.3 1130.8,566.4 1132,560.6 1133.2,554.7 1134.4,548.9 1135.7,543 1136.9,537.2 1138.2,531.3 1139.5,525.5 1140.9,519.7 1142.3,513.9 1143.7,508.1 1145.1,502.3 1146.6,496.5 1148.1,490.7 1149.7,484.9 1151.3,479.2 1152.8,473.4 1154.4,467.6 1156.1,461.9 1157.7,456.1 1159.3,450.3 1161,444.6 1162.6,438.8 1164.3,433.1 1165.9,427.3 1167.6,421.6 1169.2,415.8 1170.9,410.1 1172.5,404.3 1174.1,398.5 1175.7,392.7 1177.3,386.9 1178.9,381.1 1180.6,375.4 1182.2,369.6 1184,363.9 1185.8,358.3 1187.8,352.6 1189.8,347.1 1191.9,341.5 1194.1,336 1196.3,330.5 1198.7,325 1201.1,319.5 1203.5,314.1 1206.1,308.7 1208.7,303.3 1211.3,297.9 1214,292.5 1216.7,287.1 1219.5,281.8 1222.3,276.5 1225.1,271.2 1228,265.9 1230.9,260.6 1233.8,255.3 1236.7,250.1 1239.6,244.8 1242.6,239.6 1245.5,234.4 1248.4,229.2 1251.4,224 1254.4,218.8 1257.5,213.6 1260.7,208.5 1264.1,203.6 1267.6,198.9 1271.2,194.2 1275,189.7 1278.9,185.1 1282.9,180.7 1287,176.2 1291.2,171.9 1295.5,167.6 1299.9,163.4 1304.4,159.3 1308.9,155.3 1313.4,151.3 1318,147.5 1322.6,143.7 1327.3,140.1 1332,136.5 1336.8,133 1341.8,129.6 1346.8,126.3 1352,123.1 1357.2,120.1 1362.4,117.2 1367.8,114.6 1373.2,112.2 1378.7,109.9 1384.3,107.8 1390,105.8 1395.7,103.8 1401.4,102 1407,100.1 1412.7,98.3 1418.5,96.6 1424.2,94.9 1430,93.3 1435.8,91.8 1441.6,90.3 1447.4,88.9 1453.2,87.5 1459,86.2 1464.9,84.9 1470.7,83.7 1476.6,82.5 1482.5,81.4 1488.4,80.3 1494.3,79.2 1500.1,78.2 1506.1,77.3 1512,76.3 1517.9,75.5 1523.8,74.6 1529.7,73.8 1535.7,73 1541.6,72.2 1547.5,71.5 1553.5,70.8 1559.4,70.2 1565.4,69.5 1571.3,68.9 1577.3,68.3 1583.2,67.8 1589.2,67.2 1595.1,66.7 1601.1,66.2 1607.1,65.7 1613,65.3 1619,64.8 1625,64.4 1630.9,64 1636.9,63.6 1642.9,63.3 1648.8,62.9 1654.8,62.6 1660.8,62.2 1666.8,61.9 1672.7,61.6 1678.7,61.3 1684.7,61 1690.7,60.8 1696.6,60.5 1702.6,60.3 1708.6,60.1 1714.6,59.8 1720.5,59.6 1726.5,59.4 1732.5,59.2 1738.5,59 1744.5,58.8 1750.4,58.7 1756.4,58.5 1762.4,58.3 1768.4,58.2 1774.4,58.1 1780.3,57.9 1786.3,57.8 1792.3,57.7 1798.3,57.6 1804.3,57.5 1810.2,57.4 1816.2,57.2 1822.2,57.1 1828.2,56.9 1834.2,56.7 1840.1,56.5 1846.1,56.3 1852.1,56.1 1858.1,55.9 1864.1,55.6 1870,55.3 1876,55.1 1882,54.8" stroke="#808000"/>
<polyline points="1109.2,1236 1109.9,1230 1110.5,1224.1 1111.2,1218.1 1111.8,1212.2 1112.4,1206.2 1113.1,1200.2 1113.7,1194.3 1114.4,1188.3 1115,1182.4 1115.6,1176.4 1116.2,1170.4 1116.9,1164.5 1117.5,1158.5 1118.1,1152.5 1118.7,1146.6 1119.4,1140.6 1120,1134.7 1120.6,1128.7 1121.2,1122.7 1121.8,1116.8 1122.4,1110.8 1123,1104.8 1123.6,1098.9 1124.2,1092.9 1124.8,1086.9 1125.4,1081 1126,1075 1126.6,1069 1127.1,1063.1 1127.7,1057.1 1128.3,1051.1 1128.8,1045.2 1129.4,1039.2 1130,1033.2 1130.5,1027.3 1131.1,1021.3 1131.7,1015.3 1132.3,1009.4 1132.9,1003.4 1133.5,997.4 1134.1,991.5 1134.7,985.5 1135.3,979.5 1135.9,973.6 1136.6,967.6 1137.2,961.7 1137.8,955.7 1138.5,949.7 1139.1,943.8 1139.8,937.8 1140.5,931.9 1141.1,925.9 1141.8,919.9 1142.5,914 1143.2,908 1143.9,902.1 1144.6,896.1 1145.3,890.2 1146.1,884.2 1146.8,878.3 1147.6,872.3 1148.4,866.4 1149.2,860.5 1150,854.5 1150.8,848.6 1151.7,842.6 1152.5,836.7 1153.4,830.8 1154.2,824.8 1155.1,818.9 1156,813 1156.9,807.1 1157.8,801.1 1158.7,795.2 1159.6,789.3 1160.5,783.3 1161.4,777.4 1162.3,771.5 1163.2,765.6 1164.1,759.6 1165,753.7 1165.9,747.8 1166.8,741.8 1167.7,735.9 1168.5,730 1169.4,724 1170.3,718.1 1171.2,712.2 1172.1,706.3 1173,700.3 1173.9,694.4 1174.9,688.5 1175.8,682.6 1176.8,676.6 1177.8,670.7 1178.7,664.8 1179.7,658.9 1180.8,653 1181.8,647.1 1182.9,641.2 1184,635.3 1185.1,629.4 1186.3,623.6 1187.4,617.7 1188.6,611.8 1189.8,605.9 1191.1,600.1 1192.3,594.2 1193.6,588.3 1194.8,582.5 1196.1,576.6 1197.4,570.8 1198.7,564.9 1200,559.1 1201.3,553.2 1202.6,547.3 1203.9,541.5 1205.2,535.6 1206.5,529.8 1207.8,523.9 1209.1,518.1 1210.4,512.2 1211.6,506.3 1212.8,500.4 1214.1,494.5 1215.3,488.7 1216.6,482.8 1217.8,476.9 1219.1,471 1220.4,465.2 1221.7,459.3 1223.1,453.5 1224.5,447.6 1225.9,441.8 1227.3,436 1228.8,430.2 1230.4,424.4 1232,418.7 1233.6,413 1235.3,407.3 1237.2,401.6 1239.2,395.9 1241.2,390.3 1243.4,384.7 1245.6,379.1 1247.9,373.6 1250.2,368 1252.5,362.5 1254.8,356.9 1257.1,351.4 1259.4,345.8 1261.7,340.3 1263.9,334.7 1266.2,329.2 1268.5,323.6 1270.8,318 1273.1,312.5 1275.4,306.9 1277.7,301.4 1280,295.8 1282.4,290.3 1284.8,284.8 1287.2,279.3 1289.7,273.8 1292.1,268.4 1294.6,262.9 1297.2,257.5 1299.8,252.1 1302.4,246.7 1305.1,241.4 1307.8,236.1 1310.6,230.8 1313.4,225.5 1316.4,220.3 1319.4,215.1 1322.6,210 1325.9,205 1329.3,200.1 1332.9,195.4 1336.5,190.6 1340.3,185.9 1344.1,181.3 1348.1,176.7 1352.1,172.1 1356.2,167.6 1360.4,163.3 1364.7,159 1369,154.8 1373.4,150.7 1377.9,146.7 1382.4,142.9 1387,139.2 1391.7,135.6 1396.6,132.2 1401.6,128.8 1406.7,125.6 1411.9,122.5 1417.2,119.5 1422.4,116.6 1427.7,113.8 1433.1,111.2 1438.5,108.7 1444.1,106.3 1449.6,104 1455.2,101.8 1460.8,99.7 1466.4,97.6 1472.1,95.7 1477.8,93.8 1483.5,92 1489.3,90.2 1495,88.6 1500.8,87 1506.6,85.5 1512.4,84 1518.3,82.7 1524.1,81.3 1530,80.1 1535.8,78.9 1541.7,77.7 1547.6,76.6 1553.5,75.6 1559.4,74.6 1565.4,73.6 1571.3,72.7 1577.2,71.8 1583.1,71 1589.1,70.2 1595,69.5 1601,68.8 1607,68.1 1612.9,67.4 1618.9,66.8 1624.8,66.2 1630.8,65.7 1636.8,65.1 1642.8,64.6 1648.7,64.1 1654.7,63.7 1660.7,63.2 1666.7,62.8 1672.6,62.4 1678.6,62.1 1684.6,61.7 1690.6,61.4 1696.6,61 1702.6,60.7 1708.6,60.4 1714.6,60.1 1720.5,59.9 1726.5,59.6 1732.5,59.4 1738.5,59.1 1744.5,58.9 1750.5,58.7 1756.5,58.5 1762.5,58.3 1768.5,58.2 1774.5,58 1780.5,57.9 1786.5,57.7 1792.4,57.6 1798.4,57.5 1804.4,57.3 1810.4,57.2 1816.4,57 1822.4,56.8 1828.4,56.5 1834.4,56.3 1840.4,56 1846.4,55.7 1852.4,55.4 1858.3,55.1 1864.3,54.8" stroke="#0000CD"/>
<polyline points="1126,1236 1126.5,1230 1127.1,1224.1 1127.6,1218.1 1128.2,1212.2 1128.7,1206.2 1129.3,1200.3 1129.8,1194.3 1130.4,1188.4 1131,1182.4 1131.6,1176.4 1132.2,1170.5 1132.8,1164.5 1133.4,1158.6 1134,1152.6 1134.6,1146.7 1135.2,1140.7 1135.9,1134.8 1136.5,1128.8 1137.1,1122.9 1137.8,1117 1138.4,1111 1139,1105.1 1139.7,1099.1 1140.3,1093.2 1141,1087.2 1141.7,1081.3 1142.3,1075.3 1143,1069.4 1143.7,1063.5 1144.4,1057.5 1145.1,1051.6 1145.8,1045.6 1146.6,1039.7 1147.3,1033.8 1148,1027.8 1148.8,1021.9 1149.5,1016 1150.2,1010 1151,1004.1 1151.7,998.2 1152.5,992.2 1153.2,986.3 1153.9,980.4 1154.7,974.4 1155.4,968.5 1156.2,962.5 1156.9,956.6 1157.7,950.7 1158.4,944.7 1159.2,938.8 1159.9,932.9 1160.7,926.9 1161.4,921 1162.2,915.1 1163,909.2 1163.8,903.2 1164.6,897.3 1165.4,891.4 1166.2,885.5 1167.1,879.5 1167.9,873.6 1168.8,867.7 1169.6,861.8 1170.5,855.9 1171.4,849.9 1172.3,844 1173.2,838.1 1174.2,832.2 1175.1,826.3 1176,820.4 1177,814.5 1177.9,808.6 1178.9,802.7 1179.8,796.8 1180.8,790.9 1181.7,785 1182.7,779.1 1183.6,773.2 1184.5,767.2 1185.5,761.3 1186.4,755.4 1187.3,749.5 1188.2,743.6 1189.1,737.7 1190,731.7 1190.9,725.8 1191.8,719.9 1192.6,714 1193.5,708.1 1194.5,702.1 1195.4,696.2 1196.3,690.3 1197.3,684.4 1198.2,678.5 1199.2,672.6 1200.3,666.7 1201.3,660.9 1202.4,655 1203.5,649.1 1204.6,643.3 1205.8,637.4 1207.1,631.6 1208.4,625.8 1209.8,619.9 1211.2,614.1 1212.6,608.3 1214.1,602.5 1215.6,596.7 1217.1,591 1218.6,585.2 1220.2,579.4 1221.7,573.6 1223.3,567.8 1224.9,562 1226.4,556.3 1228,550.5 1229.5,544.7 1231.1,538.9 1232.6,533.1 1234.1,527.3 1235.6,521.5 1237,515.7 1238.5,509.9 1239.9,504.1 1241.3,498.3 1242.8,492.5 1244.2,486.7 1245.6,480.8 1247.1,475 1248.5,469.2 1250,463.4 1251.5,457.6 1253,451.8 1254.5,446.1 1256.1,440.3 1257.6,434.5 1259.2,428.8 1260.9,423 1262.5,417.3 1264.2,411.6 1266,405.9 1267.8,400.1 1269.6,394.5 1271.5,388.8 1273.4,383.1 1275.4,377.4 1277.4,371.8 1279.5,366.2 1281.6,360.6 1283.7,355 1285.9,349.5 1288.2,343.9 1290.4,338.4 1292.7,332.9 1295.1,327.4 1297.5,321.9 1299.9,316.5 1302.4,311 1304.9,305.6 1307.4,300.1 1310,294.7 1312.6,289.3 1315.2,283.9 1317.9,278.5 1320.6,273.2 1323.3,267.8 1326,262.5 1328.8,257.2 1331.6,251.9 1334.4,246.6 1337.2,241.3 1340.1,236.1 1342.9,230.9 1345.8,225.6 1348.7,220.3 1351.8,215.1 1354.9,210 1358.1,205 1361.6,200.2 1365.2,195.6 1368.9,191 1372.8,186.5 1376.8,182 1381,177.6 1385.2,173.3 1389.6,169.1 1394,164.9 1398.5,160.8 1403.1,156.8 1407.7,152.9 1412.4,149.1 1417.1,145.5 1421.8,141.9 1426.6,138.5 1431.4,135.1 1436.4,131.9 1441.6,128.7 1446.8,125.7 1452,122.7 1457.4,119.9 1462.7,117.2 1468.1,114.6 1473.5,112.1 1479,109.7 1484.5,107.5 1490.1,105.3 1495.7,103.2 1501.4,101.2 1507,99.2 1512.7,97.4 1518.4,95.6 1524.1,93.8 1529.9,92.1 1535.6,90.5 1541.4,89 1547.2,87.5 1553,86.1 1558.9,84.7 1564.7,83.4 1570.5,82.2 1576.4,81 1582.3,79.9 1588.2,78.7 1594,77.7 1599.9,76.7 1605.8,75.7 1611.7,74.8 1617.7,73.9 1623.6,73.1 1629.5,72.3 1635.4,71.5 1641.4,70.7 1647.3,70 1653.3,69.4 1659.2,68.7 1665.2,68.1 1671.1,67.5 1677.1,66.9 1683,66.4 1689,65.9 1694.9,65.4 1700.9,64.9 1706.9,64.4 1712.8,64 1718.8,63.6 1724.8,63.2 1730.7,62.8 1736.7,62.4 1742.7,62.1 1748.6,61.8 1754.6,61.4 1760.6,61.1 1766.6,60.9 1772.5,60.6 1778.5,60.3 1784.5,60.1 1790.5,59.8 1796.4,59.6 1802.4,59.4 1808.4,59.2 1814.4,59 1820.3,58.8 1826.3,58.6 1832.3,58.4 1838.3,58.2 1844.3,58.1 1850.2,58 1856.2,57.8 1862.2,57.7 1868.2,57.6 1874.2,57.5 1880.1,57.3 1886.1,57.2 1892.1,57 1898.1,56.8 1904.1,56.6 1910,56.4 1916,56.2 1922,55.9 1928,55.7 1933.9,55.4 1939.9,55.1 1945.9,54.8" stroke="#8B008B"/>
<polyline points="1268.7,1236 1269.2,1230 1269.7,1224.1 1270.1,1218.1 1270.6,1212.1 1271.1,1206.2 1271.6,1200.2 1272.1,1194.2 1272.6,1188.3 1273.1,1182.3 1273.6,1176.4 1274.1,1170.4 1274.6,1164.4 1275.1,1158.5 1275.6,1152.5 1276.1,1146.5 1276.7,1140.6 1277.2,1134.6 1277.7,1128.6 1278.2,1122.7 1278.7,1116.7 1279.3,1110.8 1279.8,1104.8 1280.3,1098.8 1280.8,1092.9 1281.4,1086.9 1281.9,1081 1282.5,1075 1283,1069 1283.5,1063.1 1284.1,1057.1 1284.7,1051.2 1285.2,1045.2 1285.8,1039.2 1286.3,1033.3 1286.9,1027.3 1287.5,1021.4 1288,1015.4 1288.6,1009.4 1289.2,1003.5 1289.7,997.5 1290.3,991.6 1290.8,985.6 1291.4,979.7 1291.9,973.7 1292.5,967.7 1293,961.8 1293.6,955.8 1294.1,949.9 1294.7,943.9 1295.2,937.9 1295.8,932 1296.4,926 1296.9,920.1 1297.5,914.1 1298,908.1 1298.6,902.2 1299.2,896.2 1299.8,890.3 1300.4,884.3 1301,878.4 1301.6,872.4 1302.2,866.5 1302.8,860.5 1303.4,854.5 1304,848.6 1304.6,842.6 1305.2,836.7 1305.9,830.7 1306.5,824.8 1307.1,818.8 1307.8,812.9 1308.4,806.9 1309.1,801 1309.7,795 1310.4,789.1 1311.1,783.1 1311.8,777.2 1312.5,771.2 1313.2,765.3 1313.9,759.4 1314.6,753.4 1315.3,747.5 1316.1,741.5 1316.8,735.6 1317.6,729.7 1318.4,723.7 1319.1,717.8 1319.9,711.9 1320.7,705.9 1321.5,700 1322.3,694.1 1323.2,688.1 1324,682.2 1324.8,676.3 1325.7,670.4 1326.5,664.4 1327.4,658.5 1328.3,652.6 1329.1,646.7 1330,640.8 1330.9,634.8 1331.9,628.9 1332.8,623 1333.7,617.1 1334.6,611.2 1335.6,605.3 1336.6,599.4 1337.5,593.5 1338.5,587.6 1339.5,581.7 1340.5,575.8 1341.6,569.9 1342.6,564 1343.6,558.1 1344.7,552.2 1345.8,546.3 1346.9,540.4 1347.9,534.5 1349.1,528.6 1350.2,522.8 1351.3,516.9 1352.4,511 1353.6,505.1 1354.7,499.3 1355.9,493.4 1357.1,487.5 1358.3,481.6 1359.5,475.8 1360.7,469.9 1361.9,464 1363.2,458.2 1364.5,452.3 1365.8,446.5 1367.2,440.6 1368.5,434.8 1369.9,429 1371.3,423.2 1372.8,417.4 1374.3,411.6 1375.8,405.9 1377.4,400.1 1379.1,394.4 1380.8,388.6 1382.6,382.9 1384.4,377.2 1386.2,371.5 1388.1,365.8 1390,360.1 1392,354.5 1393.9,348.8 1395.9,343.2 1397.9,337.5 1399.9,331.9 1401.9,326.2 1403.9,320.6 1406,315 1408.1,309.4 1410.2,303.8 1412.4,298.2 1414.5,292.6 1416.7,287 1418.9,281.4 1421.1,275.9 1423.4,270.3 1425.6,264.8 1427.9,259.2 1430.2,253.7 1432.6,248.2 1434.9,242.7 1437.3,237.2 1439.6,231.7 1442,226.2 1444.5,220.7 1446.9,215.2 1449.5,209.8 1452.2,204.5 1455.1,199.3 1458.1,194.2 1461.3,189.1 1464.6,184 1468,179 1471.5,173.9 1475.1,169 1478.8,164.2 1482.6,159.4 1486.5,154.9 1490.6,150.4 1494.7,146.2 1498.9,142.1 1503.1,138.3 1507.7,134.6 1512.4,131.1 1517.4,127.7 1522.5,124.4 1527.7,121.3 1533,118.2 1538.3,115.2 1543.5,112.4 1548.8,109.5 1554.2,106.9 1559.6,104.3 1565.1,101.9 1570.5,99.5 1576.1,97.1 1581.6,94.9 1587.2,92.7 1592.8,90.7 1598.4,88.7 1604.1,86.7 1609.8,84.9 1615.5,83.1 1621.3,81.5 1627,79.8 1632.8,78.3 1638.6,76.9 1644.5,75.5 1650.3,74.2 1656.1,72.9 1662,71.7 1667.9,70.6 1673.8,69.5 1679.7,68.5 1685.6,67.6 1691.5,66.7 1697.4,65.9 1703.4,65.2 1709.3,64.5 1715.3,63.8 1721.2,62.9 1727.1,61.9 1733,60.7 1738.9,59.4 1744.8,58.4 1750.7,57.6 1756.6,57.2 1762.6,56.7 1768.5,56.4 1774.5,56.1 1780.5,55.8 1786.5,55.7 1792.5,55.6" stroke="#960000"/>
<polyline points="1299.4,1236 1299.7,1230 1300,1224 1300.3,1218 1300.6,1212 1301,1206 1301.3,1200.1 1301.7,1194.1 1302,1188.1 1302.4,1182.1 1302.8,1176.1 1303.2,1170.1 1303.6,1164.1 1304,1158.2 1304.4,1152.2 1304.8,1146.2 1305.3,1140.2 1305.7,1134.2 1306.2,1128.2 1306.6,1122.3 1307.1,1116.3 1307.6,1110.3 1308,1104.3 1308.5,1098.4 1309,1092.4 1309.5,1086.4 1310,1080.4 1310.5,1074.5 1311,1068.5 1311.6,1062.5 1312.1,1056.6 1312.7,1050.6 1313.3,1044.6 1314,1038.7 1314.6,1032.7 1315.2,1026.7 1315.9,1020.8 1316.5,1014.8 1317.1,1008.8 1317.7,1002.9 1318.3,996.9 1318.9,990.9 1319.5,985 1320.1,979 1320.6,973 1321.2,967 1321.8,961.1 1322.4,955.1 1322.9,949.1 1323.5,943.2 1324.1,937.2 1324.7,931.2 1325.3,925.3 1325.9,919.3 1326.5,913.3 1327.1,907.4 1327.7,901.4 1328.3,895.4 1329,889.5 1329.6,883.5 1330.3,877.5 1331,871.6 1331.7,865.6 1332.4,859.7 1333.1,853.7 1333.8,847.8 1334.6,841.8 1335.3,835.9 1336.1,829.9 1336.9,824 1337.6,818 1338.4,812.1 1339.2,806.1 1340,800.2 1340.7,794.2 1341.5,788.3 1342.3,782.3 1343,776.4 1343.8,770.5 1344.6,764.5 1345.3,758.6 1346,752.6 1346.8,746.6 1347.5,740.7 1348.2,734.7 1348.9,728.8 1349.6,722.8 1350.3,716.9 1351,710.9 1351.7,704.9 1352.4,699 1353.2,693 1353.9,687.1 1354.6,681.1 1355.4,675.2 1356.2,669.2 1357,663.3 1357.8,657.4 1358.7,651.4 1359.5,645.5 1360.4,639.6 1361.4,633.7 1362.3,627.7 1363.3,621.8 1364.3,615.9 1365.4,610 1366.4,604.1 1367.5,598.2 1368.6,592.3 1369.7,586.4 1370.9,580.5 1372,574.6 1373.1,568.7 1374.3,562.9 1375.4,557 1376.6,551.1 1377.7,545.2 1378.8,539.3 1380,533.4 1381.1,527.5 1382.2,521.6 1383.2,515.7 1384.3,509.8 1385.3,503.9 1386.4,497.9 1387.4,492 1388.4,486.1 1389.5,480.2 1390.5,474.3 1391.6,468.3 1392.7,462.4 1393.8,456.5 1394.9,450.6 1396.1,444.8 1397.3,438.9 1398.5,433 1399.8,427.2 1401.1,421.4 1402.4,415.5 1403.9,409.8 1405.4,404 1407,398.2 1408.7,392.5 1410.5,386.8 1412.4,381.1 1414.3,375.4 1416.3,369.7 1418.3,364 1420.3,358.3 1422.3,352.7 1424.2,347 1426.2,341.3 1428.1,335.6 1430.1,330 1432,324.3 1434,318.6 1435.9,312.9 1437.9,307.2 1439.9,301.5 1441.9,295.8 1444,290.1 1446.1,284.5 1448.2,278.8 1450.3,273.2 1452.5,267.6 1454.7,262.1 1457,256.5 1459.3,251 1461.7,245.6 1464.2,240.1 1466.7,234.8 1469.3,229.4 1472,224.1 1475,218.9 1478.1,213.7 1481.3,208.6 1484.6,203.6 1487.9,198.6 1491.3,193.7 1494.8,188.8 1498.3,183.9 1501.9,179 1505.5,174.2 1509.2,169.4 1513,164.7 1516.9,160 1520.8,155.5 1524.8,151 1528.9,146.7 1533.1,142.5 1537.3,138.4 1541.8,134.5 1546.4,130.7 1551.2,127 1556.1,123.5 1561,119.9 1565.9,116.4 1570.8,112.9 1575.7,109.5 1580.6,106.1 1585.6,102.7 1590.6,99.4 1595.6,96.2 1600.7,92.9 1605.8,89.7 1610.9,86.6 1616,83.5 1621.2,80.5 1626.5,77.6 1632,75 1637.5,72.5 1643,70 1648.3,67.2 1653.4,64.2 1658,60.5" stroke="#008000"/>
<polyline points="1336.7,1236 1337.2,1230 1337.7,1224.1 1338.3,1218.1 1338.8,1212.2 1339.3,1206.2 1339.8,1200.3 1340.4,1194.3 1340.9,1188.4 1341.4,1182.4 1341.9,1176.5 1342.5,1170.5 1343,1164.6 1343.5,1158.6 1344,1152.6 1344.6,1146.7 1345.1,1140.7 1345.6,1134.8 1346.1,1128.8 1346.6,1122.9 1347.2,1116.9 1347.7,1111 1348.2,1105 1348.7,1099.1 1349.3,1093.1 1349.8,1087.2 1350.3,1081.2 1350.8,1075.2 1351.3,1069.3 1351.9,1063.3 1352.4,1057.4 1352.9,1051.4 1353.4,1045.5 1353.9,1039.5 1354.5,1033.6 1355,1027.6 1355.5,1021.7 1356,1015.7 1356.5,1009.8 1357.1,1003.8 1357.6,997.8 1358.1,991.9 1358.6,985.9 1359.1,980 1359.6,974 1360.1,968.1 1360.6,962.1 1361.1,956.2 1361.6,950.2 1362.1,944.2 1362.6,938.3 1363.2,932.3 1363.7,926.4 1364.2,920.4 1364.7,914.5 1365.3,908.5 1365.8,902.6 1366.4,896.6 1366.9,890.7 1367.5,884.7 1368.1,878.8 1368.7,872.8 1369.4,866.9 1370,861 1370.7,855 1371.4,849.1 1372.1,843.1 1372.8,837.2 1373.5,831.3 1374.2,825.3 1374.9,819.4 1375.6,813.5 1376.4,807.5 1377.1,801.6 1377.9,795.7 1378.6,789.7 1379.3,783.8 1380.1,777.9 1380.8,771.9 1381.6,766 1382.3,760.1 1383,754.2 1383.8,748.2 1384.5,742.3 1385.2,736.4 1386,730.4 1386.7,724.5 1387.5,718.6 1388.2,712.6 1389,706.7 1389.7,700.8 1390.5,694.8 1391.3,688.9 1392,683 1392.8,677.1 1393.6,671.1 1394.4,665.2 1395.3,659.3 1396.1,653.4 1396.9,647.5 1397.8,641.6 1398.7,635.7 1399.6,629.7 1400.5,623.8 1401.4,617.9 1402.3,612 1403.3,606.1 1404.2,600.2 1405.2,594.3 1406.1,588.4 1407.1,582.5 1408.1,576.6 1409.1,570.7 1410.1,564.8 1411.1,558.9 1412.1,553.1 1413.2,547.2 1414.2,541.3 1415.2,535.4 1416.3,529.5 1417.3,523.6 1418.4,517.7 1419.4,511.8 1420.4,505.9 1421.4,500 1422.5,494.1 1423.5,488.2 1424.5,482.4 1425.6,476.5 1426.7,470.6 1427.8,464.7 1428.9,458.8 1430,452.9 1431.2,447.1 1432.4,441.2 1433.6,435.4 1434.9,429.5 1436.2,423.7 1437.5,417.9 1438.9,412.1 1440.3,406.4 1441.9,400.6 1443.5,394.9 1445.2,389.1 1447,383.4 1448.9,377.7 1450.8,372.1 1452.7,366.4 1454.6,360.7 1456.5,355 1458.4,349.4 1460.3,343.7 1462.2,338 1464,332.3 1465.9,326.6 1467.7,320.9 1469.6,315.2 1471.5,309.5 1473.4,303.8 1475.3,298.1 1477.2,292.4 1479.2,286.8 1481.1,281.1 1483.1,275.5 1485.2,269.9 1487.3,264.3 1489.4,258.7 1491.6,253.1 1493.8,247.6 1496,242.1 1498.4,236.6 1500.8,231.2 1503.2,225.8 1505.9,220.4 1508.7,215.1 1511.5,209.8 1514.6,204.7 1517.7,199.6 1520.8,194.6 1524.1,189.5 1527.4,184.5 1530.9,179.5 1534.4,174.5 1538,169.6 1541.6,164.8 1545.4,160.1 1549.2,155.5 1553.2,151 1557.2,146.7 1561.3,142.5 1565.5,138.5 1570,134.7 1574.6,131 1579.4,127.4 1584.4,123.9 1589.4,120.6 1594.5,117.3 1599.6,114.1 1604.7,110.9 1609.8,107.9 1615.1,105 1620.4,102.2 1625.7,99.5 1631.1,96.9 1636.5,94.3 1641.9,91.9 1647.4,89.5 1652.9,87.3 1658.5,85.1 1664.1,83 1669.8,81.1 1675.5,79.2 1681.2,77.4 1686.9,75.8 1692.7,74.2 1698.5,72.7 1704.3,71.3 1710.1,70 1716,68.8 1721.8,67.6 1727.7,66.5 1733.6,65.6 1739.5,64.7 1745.4,63.8 1751.3,62.9 1757.2,61.7 1763,60.4 1768.9,59.2 1774.7,58 1780.6,57.1 1786.6,56.3 1792.5,55.6" stroke="#FF1493"/>
<polyline points="1381.4,1236 1381.9,1230 1382.3,1224.1 1382.8,1218.1 1383.3,1212.1 1383.8,1206.1 1384.2,1200.2 1384.7,1194.2 1385.2,1188.2 1385.7,1182.3 1386.2,1176.3 1386.7,1170.3 1387.2,1164.3 1387.7,1158.4 1388.2,1152.4 1388.7,1146.4 1389.2,1140.5 1389.7,1134.5 1390.2,1128.5 1390.8,1122.6 1391.3,1116.6 1391.8,1110.6 1392.3,1104.7 1392.8,1098.7 1393.4,1092.7 1393.9,1086.8 1394.4,1080.8 1395,1074.8 1395.5,1068.9 1396.1,1062.9 1396.6,1056.9 1397.2,1051 1397.8,1045 1398.4,1039 1398.9,1033.1 1399.5,1027.1 1400.1,1021.2 1400.6,1015.2 1401.2,1009.2 1401.7,1003.3 1402.2,997.3 1402.8,991.3 1403.3,985.4 1403.7,979.4 1404.2,973.4 1404.7,967.4 1405.2,961.5 1405.6,955.5 1406.1,949.5 1406.6,943.6 1407,937.6 1407.5,931.6 1408,925.6 1408.5,919.7 1408.9,913.7 1409.4,907.7 1409.9,901.8 1410.5,895.8 1411,889.8 1411.5,883.9 1412.1,877.9 1412.7,871.9 1413.3,866 1413.9,860 1414.5,854.1 1415.2,848.1 1415.8,842.2 1416.5,836.2 1417.1,830.2 1417.8,824.3 1418.5,818.3 1419.2,812.4 1419.9,806.4 1420.6,800.5 1421.3,794.5 1422,788.6 1422.7,782.6 1423.4,776.7 1424.1,770.7 1424.8,764.8 1425.5,758.8 1426.2,752.9 1427,746.9 1427.7,741 1428.4,735.1 1429.1,729.1 1429.8,723.2 1430.6,717.2 1431.3,711.3 1432,705.3 1432.8,699.4 1433.5,693.4 1434.3,687.5 1435.1,681.6 1435.8,675.6 1436.6,669.7 1437.4,663.7 1438.2,657.8 1439,651.9 1439.8,645.9 1440.6,640 1441.4,634.1 1442.2,628.1 1443,622.2 1443.8,616.2 1444.6,610.3 1445.4,604.4 1446.3,598.4 1447.1,592.5 1448,586.5 1448.8,580.6 1449.7,574.7 1450.6,568.8 1451.5,562.8 1452.5,556.9 1453.4,551 1454.4,545.1 1455.4,539.2 1456.5,533.3 1457.6,527.5 1458.8,521.6 1460.1,515.8 1461.5,509.9 1463,504.1 1464.5,498.3 1466,492.5 1467.5,486.7 1468.9,480.8 1470.3,475 1471.6,469.2 1472.8,463.3 1473.8,457.4 1474.8,451.5 1475.6,445.5 1475.9,439.6 1475.6,433.6 1475.2,427.6 1474.7,421.6 1474.4,415.7 1474.7,409.8 1475.7,404.1 1477,398.3 1478.8,392.6 1480.9,387 1483.3,381.3 1485.8,375.7 1488.4,370.1 1490.9,364.5 1493.4,358.9 1495.7,353.3 1497.8,347.7 1499.9,342.1 1501.9,336.4 1503.9,330.7 1506,325.1 1508,319.4 1510,313.8 1512.1,308.1 1514.1,302.4 1516.2,296.8 1518.3,291.1 1520.5,285.5 1522.6,279.9 1524.8,274.3 1527.1,268.8 1529.3,263.2 1531.7,257.7 1534,252.2 1536.5,246.8 1539,241.4 1541.5,236 1544.1,230.7 1546.9,225.4 1549.8,220.2 1552.9,215 1556.1,209.9 1559.4,204.9 1562.7,200 1566.1,195 1569.5,190.1 1573,185.1 1576.5,180.2 1580.1,175.3 1583.7,170.5 1587.4,165.7 1591.2,161 1595,156.4 1599,151.9 1603,147.5 1607.1,143.2 1611.3,139.1 1615.7,135.2 1620.3,131.4 1625,127.7 1629.8,124.1 1634.8,120.6 1639.7,117.1 1644.7,113.8 1649.7,110.4 1654.8,107.3 1659.9,104.2 1665.1,101.2 1670.4,98.3 1675.7,95.5 1681,92.7 1686.4,90.1 1691.8,87.6 1697.3,85.2 1702.8,82.9 1708.4,80.8 1714.1,78.7 1719.7,76.7 1725.4,74.9 1731.2,73.2 1736.9,71.5 1742.7,70 1748.5,68.6 1754.4,67.3 1760.3,66.1 1766.2,65.2 1772.1,64.2 1778,63 1785.1,61.5 1791.4,59.5 1792.5,55.6" stroke="#9400D3"/>
<polyline points="1398.8,1236 1399.2,1230 1399.7,1224 1400.1,1218.1 1400.5,1212.1 1401,1206.1 1401.4,1200.1 1401.9,1194.1 1402.3,1188.1 1402.8,1182.2 1403.3,1176.2 1403.7,1170.2 1404.2,1164.2 1404.7,1158.3 1405.2,1152.3 1405.7,1146.3 1406.2,1140.3 1406.6,1134.3 1407.1,1128.4 1407.7,1122.4 1408.2,1116.4 1408.7,1110.4 1409.2,1104.5 1409.7,1098.5 1410.2,1092.5 1410.7,1086.5 1411.3,1080.6 1411.8,1074.6 1412.3,1068.6 1412.9,1062.6 1413.4,1056.7 1414,1050.7 1414.5,1044.7 1415.1,1038.8 1415.7,1032.8 1416.3,1026.8 1416.8,1020.8 1417.4,1014.9 1418,1008.9 1418.6,1002.9 1419.2,997 1419.8,991 1420.4,985 1421,979.1 1421.6,973.1 1422.2,967.1 1422.8,961.2 1423.4,955.2 1424,949.2 1424.6,943.3 1425.2,937.3 1425.9,931.3 1426.5,925.4 1427.1,919.4 1427.7,913.4 1428.4,907.5 1429,901.5 1429.6,895.6 1430.3,889.6 1430.9,883.6 1431.6,877.7 1432.2,871.7 1432.8,865.7 1433.5,859.8 1434.1,853.8 1434.8,847.8 1435.4,841.9 1436.1,835.9 1436.8,830 1437.4,824 1438.1,818 1438.8,812.1 1439.4,806.1 1440.1,800.2 1440.8,794.2 1441.5,788.2 1442.2,782.3 1442.9,776.3 1443.6,770.4 1444.3,764.4 1445,758.5 1445.7,752.5 1446.4,746.6 1447.1,740.6 1447.8,734.6 1448.5,728.7 1449.2,722.7 1449.9,716.8 1450.7,710.8 1451.4,704.9 1452.1,698.9 1452.9,693 1453.6,687 1454.4,681.1 1455.2,675.1 1455.9,669.2 1456.7,663.2 1457.6,657.3 1458.4,651.3 1459.2,645.4 1460.1,639.5 1461,633.5 1461.9,627.6 1462.8,621.7 1463.8,615.8 1464.7,609.8 1465.7,603.9 1466.7,598 1467.6,592.1 1468.7,586.2 1469.7,580.3 1470.7,574.4 1471.7,568.4 1472.8,562.5 1473.9,556.6 1474.9,550.7 1476,544.8 1477.1,538.9 1478.1,533 1479.2,527.1 1480.3,521.2 1481.4,515.3 1482.5,509.4 1483.5,503.5 1484.6,497.6 1485.7,491.7 1486.8,485.8 1487.9,479.9 1489.1,474 1490.2,468.1 1491.4,462.2 1492.6,456.3 1493.8,450.4 1495,444.6 1496.3,438.7 1497.6,432.9 1498.9,427 1500.3,421.2 1501.7,415.4 1503.1,409.6 1504.6,403.8 1506.2,398 1507.9,392.3 1509.7,386.6 1511.5,380.8 1513.4,375.1 1515.3,369.4 1517.2,363.7 1519.1,358 1521,352.3 1522.9,346.7 1524.8,341 1526.6,335.2 1528.5,329.5 1530.4,323.8 1532.2,318.1 1534.1,312.3 1536,306.6 1537.9,300.9 1539.8,295.1 1541.7,289.4 1543.7,283.8 1545.7,278.1 1547.7,272.4 1549.8,266.8 1551.9,261.2 1554.1,255.6 1556.3,250.1 1558.6,244.6 1560.9,239.1 1563.3,233.7 1565.8,228.3 1568.5,222.9 1571.3,217.6 1574.3,212.3 1577.4,207.1 1580.6,202.1 1583.9,197.2 1587.4,192.4 1591,187.6 1594.7,182.9 1598.5,178.2 1602.4,173.6 1606.4,169.1 1610.4,164.6 1614.5,160.1 1618.7,155.8 1622.9,151.4 1627.2,147.2 1631.5,143 1635.8,138.9 1640.2,134.9 1644.7,130.9 1649.3,127.1 1653.9,123.3 1658.7,119.6 1663.4,115.9 1668.2,112.2 1673,108.6 1677.9,105.1 1682.8,101.7 1687.8,98.3 1692.8,95 1697.9,91.8 1703,88.8 1708.2,85.8 1713.5,82.9 1718.8,80.2 1724.2,77.6 1729.7,75.2 1735.3,72.9 1740.9,70.8 1746.6,68.9 1752.3,67.1 1758.1,65.6 1763.9,64.1 1769.8,62.7 1775.7,61.4 1781.6,60.1 1787.3,58.4 1792.5,55.6" stroke="#FFA500"/>
</g>
<circle cx="1657" cy="60.5" r="4.2" fill="#008000"/>
<g stroke="#000" fill="none">
<line x1="339" y1="52.3" x2="339" y2="1240" stroke-width="9"/>
<line x1="334.5" y1="1235.6" x2="1796.9" y2="1235.6" stroke-width="8.8"/>
<line x1="339" y1="54.6" x2="1796.9" y2="54.6" stroke-width="4.3"/>
<line x1="1794.6" y1="52.3" x2="1794.6" y2="1240" stroke-width="4.3"/>
<g stroke-width="9" stroke-linecap="round">
<line x1="316" y1="54.6" x2="339" y2="54.6"/><line x1="327" y1="172.7" x2="339" y2="172.7"/><line x1="316" y1="290.8" x2="339" y2="290.8"/><line x1="327" y1="408.9" x2="339" y2="408.9"/><line x1="316" y1="527" x2="339" y2="527"/><line x1="327" y1="645.1" x2="339" y2="645.1"/><line x1="316" y1="763.2" x2="339" y2="763.2"/><line x1="327" y1="881.3" x2="339" y2="881.3"/><line x1="316" y1="999.4" x2="339" y2="999.4"/><line x1="327" y1="1117.5" x2="339" y2="1117.5"/><line x1="316" y1="1235.6" x2="339" y2="1235.6"/><line x1="339" y1="1235.6" x2="339" y2="1258.5"/><line x1="521" y1="1235.6" x2="521" y2="1246.5"/><line x1="702.9" y1="1235.6" x2="702.9" y2="1258.5"/><line x1="884.8" y1="1235.6" x2="884.8" y2="1246.5"/><line x1="1066.8" y1="1235.6" x2="1066.8" y2="1258.5"/><line x1="1248.8" y1="1235.6" x2="1248.8" y2="1246.5"/><line x1="1430.7" y1="1235.6" x2="1430.7" y2="1258.5"/><line x1="1612.6" y1="1235.6" x2="1612.6" y2="1246.5"/><line x1="1794.6" y1="1235.6" x2="1794.6" y2="1258.5"/></g>
<g stroke-width="4.3" stroke-linecap="butt">
<line x1="1769.3" y1="54.6" x2="1794.6" y2="54.6"/><line x1="1780.3" y1="172.7" x2="1794.6" y2="172.7"/><line x1="1769.3" y1="290.8" x2="1794.6" y2="290.8"/><line x1="1780.3" y1="408.9" x2="1794.6" y2="408.9"/><line x1="1769.3" y1="527" x2="1794.6" y2="527"/><line x1="1780.3" y1="645.1" x2="1794.6" y2="645.1"/><line x1="1769.3" y1="763.2" x2="1794.6" y2="763.2"/><line x1="1780.3" y1="881.3" x2="1794.6" y2="881.3"/><line x1="1769.3" y1="999.4" x2="1794.6" y2="999.4"/><line x1="1780.3" y1="1117.5" x2="1794.6" y2="1117.5"/><line x1="1769.3" y1="1235.6" x2="1794.6" y2="1235.6"/><line x1="339" y1="54.6" x2="339" y2="78.9"/><line x1="484.6" y1="54.6" x2="484.6" y2="67.9"/><line x1="630.1" y1="54.6" x2="630.1" y2="78.9"/><line x1="775.7" y1="54.6" x2="775.7" y2="67.9"/><line x1="921.2" y1="54.6" x2="921.2" y2="78.9"/><line x1="1066.8" y1="54.6" x2="1066.8" y2="67.9"/><line x1="1212.4" y1="54.6" x2="1212.4" y2="78.9"/><line x1="1357.9" y1="54.6" x2="1357.9" y2="67.9"/><line x1="1503.5" y1="54.6" x2="1503.5" y2="78.9"/><line x1="1649" y1="54.6" x2="1649" y2="67.9"/><line x1="1794.6" y1="54.6" x2="1794.6" y2="78.9"/></g>
</g>
<g font-size="55" fill="#000" stroke="#000" stroke-width="0.7">
<text transform="translate(299.5,68.2) scale(1.045,1)" text-anchor="end">0.00</text><text transform="translate(299.5,304.4) scale(1.045,1)" text-anchor="end">-0.02</text><text transform="translate(299.5,540.6) scale(1.045,1)" text-anchor="end">-0.04</text><text transform="translate(299.5,776.8) scale(1.045,1)" text-anchor="end">-0.06</text><text transform="translate(299.5,1013) scale(1.045,1)" text-anchor="end">-0.08</text><text transform="translate(299.5,1249.2) scale(1.045,1)" text-anchor="end">-0.10</text><text transform="translate(338.5,1318.9) scale(1.045,1)" text-anchor="middle">-0.8</text><text transform="translate(702.4,1318.9) scale(1.045,1)" text-anchor="middle">-0.6</text><text transform="translate(1066.3,1318.9) scale(1.045,1)" text-anchor="middle">-0.4</text><text transform="translate(1430.2,1318.9) scale(1.045,1)" text-anchor="middle">-0.2</text><text transform="translate(1794.1,1318.9) scale(1.045,1)" text-anchor="middle">0.0</text></g>
<g class="b" font-size="56" text-anchor="middle">
<text x="388" y="126.7" fill="#000000">1</text><text x="670.5" y="262" fill="#FF0000">2</text><text x="696" y="387.5" fill="#008080">3</text><text x="763" y="473.2" fill="#0000FF">4</text><text x="818" y="555.3" fill="#000080">5</text><text x="917" y="659.8" fill="#FF00FF">6</text><text x="977" y="719" fill="#808080">7</text><text x="1079.5" y="738.7" fill="#808000">8</text><text x="1143" y="765.4" fill="#0000CD">9</text><text x="1219" y="812" fill="#8B008B">10</text><text x="1260" y="921.6" fill="#960000">11</text><text x="1323" y="976.8" fill="#008000">12</text><text x="1357" y="1043.6" fill="#FF1493">13</text><text x="1379" y="1117" fill="#9400D3">14</text><text x="1443" y="1171.7" fill="#FFA500">15</text></g>
<text class="b" x="448.5" y="147" font-size="68">(a)</text>
<text class="b" font-size="95" transform="translate(114.8,907.5) rotate(-90) scale(1,1.04)"><tspan class="bi">j</tspan> / A cm<tspan font-size="57" dy="-50">-2</tspan></text>
<text class="b" font-size="91.5" transform="translate(1065,1449) scale(1,1.02)" text-anchor="middle"><tspan class="bi">E</tspan> / V <tspan class="bi">vs</tspan> RHE</text>
</g>
<g id="plot-b">
<g clip-path="url(#cb)">
<path d="M593.5,2523.1L611.3,2505.8M650.3,2470.9L684.4,2436.1" stroke="#000000" stroke-width="3.2" fill="none"/>
<polyline points="1232,1921.4 1230.5,1923.2 1228.1,1924.2 1226.9,1926.3 1224.9,1927.7 1222.9,1929.1 1221.6,1931.2 1219.7,1932.7 1218.1,1934.5 1216.4,1936.2 1214.8,1938 1212.7,1939.3 1211.2,1941.1 1209.2,1942.5 1207.6,1944.4 1205.8,1946.1 1203.7,1947.7 1202,1949.9 1200,1951.9 1197.7,1953.7 1195.4,1955.8 1193.2,1958.2 1190.7,1960.5 1188,1962.9 1185,1965.7 1184.7,1966.9 1180.9,1969.7 1177.2,1972.7 1173.9,1976 1170.2,1978.9 1166.8,1982.2 1163.8,1985.8 1160.1,1988.7 1157,1992.3 1153.5,1995.4 1150.3,1998.9 1146.6,2001.8 1143.4,2005.3 1139.8,2008.3 1136.5,2011.7 1133.2,2015 1129.5,2017.9 1126.1,2021.2 1122.5,2024.2 1119.3,2027.6 1115.8,2030.9 1112.5,2034.2 1109,2037.3 1105.5,2040.5 1102.5,2044.1 1098.7,2047 1095.3,2050.2 1091.9,2053.4 1088.7,2056.9 1085.4,2060.2 1081.7,2063.1 1078.2,2066.3 1074.4,2069.2 1071.6,2073 1067.8,2075.9 1064.3,2079 1061.4,2082.8 1057.9,2085.9 1054.3,2088.9 1050.8,2092.1 1047.3,2095.2 1044.1,2098.7 1040.6,2101.8 1037.3,2105.1 1033.7,2108.2 1030.7,2111.9 1027.1,2114.9 1023.6,2118 1020.3,2121.4 1016.7,2124.4 1013.4,2127.8 1009.9,2130.9 1006.2,2133.9 1003.2,2137.5 1000,2141 996.1,2143.6 992.8,2147 989.6,2150.4 985.6,2153.1 982.8,2157 979.1,2159.9 975.4,2162.9 972.3,2166.4 968.9,2169.6 965.4,2172.8 961.9,2176 958.7,2179.6 954.9,2182.7 951.2,2186 947.9,2189.8 943.8,2192.9 940.1,2196.4 936.4,2200 932.3,2203.4 928.8,2207.5 924.8,2211.2 920.7,2214.8 916.3,2218.3 912.5,2222.6 908.4,2226.7 904.2,2230.7 899.6,2234.4 895.4,2238.8 890.6,2242.7 886.2,2247 881.5,2251.3 877.1,2256 872.1,2260.3 867.7,2265.3 862.6,2269.8 857.4,2274.3 852.6,2279.4 847.4,2284.3 842.1,2289.3 836.5,2294.2 831,2299.4 825.8,2305.1 819.8,2310.3 813.7,2315.6 807.8,2321.3 801.6,2327 795.5,2333 789.2,2339.2 782.6,2345.3 767.8,2360.5 754.3,2372.6 740.8,2384.8 720,2400.9 705.8,2414.4 697.7,2422.5 637,2484.5 633,2488.5 624.9,2492.6 579.9,2536.3" fill="none" stroke="none" marker-start="url(#m1)" marker-mid="url(#m1)" marker-end="url(#m1)"/>
<path d="M596.3,2883.5L641.6,2859.5M706.3,2812.3L728.2,2793.7" stroke="#FF0000" stroke-width="3.6" fill="none"/>
<polyline points="1330,2285.3 1330,2286.3 1327.1,2286.8 1326.1,2289.5 1323.1,2289.8 1321.1,2291.2 1319.9,2293.7 1317.3,2294.5 1315.7,2296.5 1313.7,2298 1312.8,2300.8 1310.1,2301.6 1307.6,2302.3 1306,2304.4 1304.2,2306.1 1301.9,2307.2 1300.1,2309 1298.9,2311.5 1296.6,2312.6 1294,2313.4 1292.8,2315.9 1290.1,2316.5 1288.4,2318.4 1285.9,2319.3 1284.7,2321.8 1282.6,2323.2 1280.7,2324.8 1278.7,2326.2 1277.3,2328.5 1274.9,2329.6 1272.5,2330.6 1270.9,2332.6 1269.2,2334.4 1267.4,2336.2 1266,2338.4 1263.1,2338.8 1261.2,2340.4 1259.5,2342.3 1257.8,2344.2 1256.3,2346.3 1253.7,2347.1 1251.7,2348.6 1249.7,2350.1 1248,2352 1246,2353.5 1244.4,2355.4 1242.5,2357.1 1240.6,2358.7 1239,2360.7 1235.5,2360.4 1234.3,2362.8 1232.3,2364.3 1231.3,2367 1228.7,2367.8 1226.9,2369.6 1225.4,2371.7 1222.8,2372.5 1220.9,2374.1 1218.6,2375.3 1217.2,2377.5 1215.2,2379 1213.5,2380.8 1210.4,2381.1 1209.7,2384.1 1207.9,2385.9 1205.5,2386.8 1204.4,2389.5 1202.6,2391.2 1199.4,2391.2 1198,2393.5 1196.1,2395.1 1193.7,2396.1 1192.8,2399 1190.1,2399.6 1188.7,2401.9 1186.1,2402.7 1184.8,2405 1183,2406.8 1181.2,2408.5 1179,2409.7 1177.1,2411.3 1175.2,2413 1173.3,2414.7 1171.9,2416.8 1169,2417.3 1167,2418.8 1165.7,2421.1 1164.4,2423.4 1161.6,2424 1159,2424.8 1157.2,2426.5 1155.9,2428.8 1153.3,2429.6 1152.4,2432.4 1151,2434.7 1148.5,2435.6 1146.7,2437.4 1144.8,2438.9 1143.3,2441 1140.8,2442 1138.5,2443.1 1137.3,2445.5 1135.4,2447.2 1133.9,2449.3 1131,2449.8 1130.7,2453.2 1128.1,2454 1126.2,2455.7 1123.8,2456.7 1122.4,2458.9 1120,2460 1118.1,2461.6 1116.4,2463.5 1114.4,2465 1113.2,2467.4 1111.1,2468.8 1109.5,2470.7 1106.6,2471.3 1105.1,2473.3 1103.6,2475.4 1101.1,2476.4 1099.6,2478.4 1098.1,2480.5 1096.2,2482.1 1094.4,2483.9 1092.7,2485.7 1089.7,2486.1 1088.1,2488 1087.4,2491 1085.1,2492.2 1082.8,2493.4 1081.8,2496 1078.7,2496.3 1077.1,2498.3 1076.5,2501.3 1074.8,2503.2 1072.5,2504.3 1070.4,2505.8 1068.7,2507.6 1065.9,2508.2 1065.3,2511.3 1062.5,2511.9 1061.2,2514.3 1059.3,2515.9 1057.4,2517.5 1055.4,2519.1 1053.1,2520.4 1051.7,2522.7 1049.7,2524.4 1046.6,2524.9 1044.9,2527 1043.3,2529.3 1041.3,2531.3 1039.4,2533.3 1036.8,2534.5 1034.5,2536.3 1032.2,2538.1 1030.4,2540.5 1027.6,2541.8 1025.4,2543.7 1023.2,2545.9 1021,2548.1 1018.3,2549.7 1016.7,2552.7 1013.1,2553.4 1010.6,2555.5 1008.5,2558.1 1005.7,2560.1 1003.6,2562.8 1000.4,2564.3 998,2567 995.3,2569.2 992.8,2572 988.9,2573 986.5,2575.9 983.8,2578.6 980.3,2580.4 978.5,2584.4 975,2586.4 971.2,2588.2 968.2,2591.1 966,2595 961.6,2596.5 958,2598.9 955.1,2602.4 951.6,2605.3 948.2,2608.4 944.3,2611.2 940.7,2614.4 936.8,2617.4 933.2,2621 929.7,2624.8 925.2,2627.6 921.7,2631.8 916.3,2634 912.2,2638 907.7,2641.6 903.5,2645.8 898.6,2649.5 894.5,2654.4 888.6,2657.5 883.9,2662.2 878.6,2666.5 873.3,2671.2 868.4,2676.6 862.6,2681.4 855.4,2684.9 850,2690.9 843.9,2696.7 836.5,2701.4 830,2707.6 814.3,2720.8 795,2737 775.8,2753.4 744.1,2780 690.4,2826 660.2,2849.7 577.7,2893.3" fill="none" stroke="none" marker-start="url(#m2)" marker-mid="url(#m2)" marker-end="url(#m2)"/>
<path d="M383,3067.5L452.5,3044.6M572.4,2969.2L579.2,2964.5M631.4,2921.5L634.1,2919.1" stroke="#008080" stroke-width="3.8" fill="none"/>
<polyline points="1303.2,2374 1301.8,2375.1 1299.1,2376 1298.1,2378.4 1296.5,2380.4 1294.8,2382.3 1292.4,2383.4 1291.7,2386.2 1289.7,2387.8 1288.3,2389.9 1285.4,2390.6 1283.9,2392.6 1282.8,2395.1 1280.7,2396.5 1279.3,2398.6 1277.8,2400.7 1275.8,2402.2 1274.1,2404 1271.9,2405.4 1269.7,2406.7 1268.8,2409.3 1266.5,2410.6 1264.8,2412.4 1263,2414.2 1260.6,2415.3 1258.5,2416.7 1257.2,2418.9 1255.4,2420.6 1254.3,2423.2 1252.5,2424.9 1250,2425.8 1247.8,2427.1 1246.7,2429.6 1243.9,2430.2 1241.7,2431.4 1239.7,2432.9 1238.6,2435.5 1235.6,2435.7 1234.6,2438.4 1233.1,2440.6 1230.1,2440.8 1228.9,2443.3 1227.3,2445.3 1225.4,2447 1223.2,2448.1 1220.3,2448.6 1219.1,2451 1217.2,2452.7 1215.3,2454.3 1212.9,2455.4 1210.8,2456.7 1209.2,2458.8 1207.2,2460.2 1205.2,2461.7 1203.3,2463.3 1200.4,2463.7 1199.3,2466.4 1196.9,2467.4 1195,2469 1193.1,2470.7 1191.2,2472.3 1188.6,2473 1187.1,2475.2 1184.8,2476.3 1183,2478 1180.7,2479.1 1178.9,2481 1176.9,2482.5 1175,2484.1 1173.2,2485.8 1171.2,2487.3 1168.2,2487.6 1167,2490.2 1164.9,2491.5 1162.6,2492.7 1161.3,2495 1158.7,2495.8 1157.3,2498.1 1155.5,2499.8 1153.2,2500.9 1151.4,2502.6 1149.1,2503.8 1147.3,2505.6 1145.6,2507.4 1143.9,2509.3 1141.8,2510.7 1140.2,2512.7 1137.6,2513.4 1136.1,2515.5 1133.9,2516.8 1132.1,2518.5 1130.4,2520.4 1128.2,2521.7 1126.6,2523.6 1125.6,2526.3 1123.5,2527.7 1121,2528.6 1119.1,2530.2 1116.7,2531.3 1115.3,2533.5 1113.4,2535.2 1111.5,2536.8 1109.5,2538.3 1106.9,2539.1 1105.5,2541.3 1103.9,2543.2 1102.5,2545.5 1100.9,2547.5 1098,2547.9 1095.8,2549.3 1094.5,2551.6 1092.3,2552.8 1091.4,2555.6 1088.5,2556.1 1087.4,2558.6 1084.2,2558.8 1084,2562.3 1081.3,2563.1 1079,2564.2 1077.3,2566 1076.2,2568.6 1074.3,2570.2 1071.4,2570.7 1069.7,2572.5 1067.5,2573.9 1065.9,2575.8 1065.3,2579 1062.6,2579.6 1060.7,2581.2 1058.7,2582.8 1056.9,2584.5 1054.7,2585.8 1053.8,2588.6 1050.2,2588.2 1048.6,2590.1 1046.7,2591.8 1045.4,2594.1 1043,2595.1 1041.6,2597.4 1039.1,2598.2 1037.1,2599.7 1035.7,2602 1033.1,2602.7 1031.3,2604.5 1029.2,2605.8 1027,2607.1 1026.2,2610.1 1023.7,2611 1021,2611.6 1019.4,2613.6 1018.1,2616.1 1015.1,2616.3 1013.9,2618.8 1011.6,2619.8 1010.4,2622.4 1008,2623.4 1006,2624.9 1003.6,2625.9 1002.1,2628 1000.4,2629.9 998.1,2631 996.4,2632.9 993.8,2633.7 992.1,2635.5 990.4,2637.4 987.9,2638.3 986.9,2641.1 984,2641.5 982.7,2643.8 979.9,2644.3 978,2646 976.3,2647.9 973.7,2648.5 972.8,2651.4 970.4,2652.4 967.9,2653.3 966,2655 964.3,2656.9 962,2658.2 960.1,2660 958.3,2661.8 956.1,2663.2 954,2664.8 951.7,2666.2 950.2,2668.6 948.4,2670.6 945.3,2671 944.1,2673.9 941.4,2674.9 938.6,2675.9 937.3,2678.6 934.7,2679.9 933.5,2682.8 930.5,2683.6 929.3,2686.7 925.6,2686.6 923.7,2688.9 921.4,2690.6 919.8,2693.4 917.2,2694.8 915.2,2697.1 911.4,2697.1 910.1,2700.3 907.9,2702.4 904.7,2703.3 902.2,2705.1 900.4,2707.8 898.3,2710.1 895.2,2711.3 893,2713.7 890.4,2715.6 887.5,2717.1 884.5,2718.5 883.1,2722.1 880.2,2723.7 877.4,2725.5 875.2,2728.2 871.6,2729 869,2731.2 866.7,2733.9 863.9,2736 861.3,2738.3 858.8,2740.9 855.6,2742.5 853.5,2745.6 850.6,2747.9 847.8,2750.2 843.9,2751.2 841.5,2754.2 838.1,2755.8 835.5,2758.7 832.6,2761.2 829.1,2763 826.2,2765.6 823.5,2768.6 821.3,2772.1 817.5,2773.8 813.7,2775.6 810.6,2778.3 806.8,2780.1 804.2,2783.6 801.3,2786.7 798,2789.4 793.7,2790.8 790.1,2793.2 787.6,2797.3 783.2,2798.9 780.5,2802.6 777.2,2805.8 774.1,2809.3 769.9,2811.5 766,2814.1 762.4,2817.2 758.5,2820 754.6,2822.9 751,2826.3 747.1,2829.4 743,2832.3 739.2,2835.7 734.8,2838.5 730.6,2841.6 726.4,2844.9 723,2849.3 719,2852.9 714,2855.6 709.1,2858.3 705,2862.3 700.7,2866.1 697.1,2870.9 691.8,2873.9 686.9,2877.3 650.7,2904.6 614.8,2936 597.3,2952 554.3,2981.7 524.4,2999.5 516.4,3000 488.2,3023.8 473.4,3037.7" fill="none" stroke="none" marker-start="url(#m3)" marker-mid="url(#m3)" marker-end="url(#m3)"/>
<path d="M614.4,2962.1L644.3,2952.3M684.7,2935.3L694,2930.5M770.1,2874.4L775.6,2869.6" stroke="#0000FF" stroke-width="3.6" fill="none"/>
<polyline points="1373.1,2373 1373.1,2373.2 1371,2374.7 1368.8,2375.9 1366.7,2377.4 1365.7,2380 1363.7,2381.5 1361.9,2383.3 1360.6,2385.5 1358.6,2387 1356.5,2388.5 1355.6,2391.2 1353.1,2392.1 1351.5,2394.1 1349.4,2395.6 1349.2,2398.9 1346.8,2400 1344.5,2401.3 1342.4,2402.7 1341.2,2405.1 1338.8,2406.2 1337.3,2408.3 1335.1,2409.6 1333.6,2411.7 1331.7,2413.3 1329.2,2414.3 1327.6,2416.3 1326.5,2418.6 1325.4,2421.1 1322.1,2421.3 1321,2423.8 1319,2425.3 1317.2,2427.1 1314.8,2428.1 1313.8,2430.8 1312,2432.4 1310.1,2434.2 1308.7,2436.3 1306.3,2437.3 1304.7,2439.3 1302.6,2440.7 1300.9,2442.6 1298.8,2444 1297.3,2446.1 1294.2,2446.4 1293,2448.7 1291.7,2451 1289,2451.8 1287.3,2453.6 1285.5,2455.4 1283.3,2456.6 1282,2459 1281,2461.6 1278.5,2462.5 1276.7,2464.2 1274.3,2465.3 1272.1,2466.5 1270.7,2468.8 1268.1,2469.5 1266.7,2471.8 1265.5,2474.2 1263,2475.2 1261.3,2477 1259.9,2479.2 1257,2479.6 1256.4,2482.8 1254.2,2484 1252.3,2485.6 1249.9,2486.6 1247.9,2488.2 1245.4,2489.1 1245.1,2492.5 1242.2,2493.1 1240.6,2495 1238.3,2496.1 1237.4,2498.9 1234.8,2499.7 1232.9,2501.4 1231.3,2503.3 1228.8,2504.3 1226.5,2505.3 1225.3,2507.9 1223.3,2509.3 1221,2510.5 1219.1,2512.1 1218.1,2514.9 1215,2515 1212.8,2516.2 1211.2,2518.3 1209.1,2519.6 1207.4,2521.4 1205.2,2522.8 1203.3,2524.4 1201.4,2526 1200,2528.3 1197.1,2528.7 1195.7,2531 1194,2532.8 1192.3,2534.7 1190.3,2536.2 1187.5,2536.7 1184.8,2537.3 1183.3,2539.4 1181.3,2540.9 1179.5,2542.7 1177.5,2544.1 1175.6,2545.8 1173.8,2547.5 1171,2548.1 1169.8,2550.6 1166.8,2550.9 1165.8,2553.6 1163.5,2554.8 1161.3,2555.9 1159.4,2557.7 1157.1,2558.7 1155.9,2561.3 1154.8,2563.9 1152.5,2565 1150.2,2566.1 1148.7,2568.2 1145.2,2567.9 1144.1,2570.5 1142,2571.9 1140.2,2573.6 1138.1,2575 1136.6,2577.2 1133.8,2577.6 1132.5,2580 1131,2582.1 1128.9,2583.6 1126.7,2584.8 1125.2,2586.8 1122.1,2587 1121.3,2590.1 1119.4,2591.6 1117.9,2593.8 1116.1,2595.5 1113.1,2595.8 1111.7,2598 1109.7,2599.5 1108.1,2601.5 1105.5,2602.3 1103.6,2603.9 1102.7,2606.8 1100.2,2607.6 1097.9,2608.8 1096.4,2611 1095.1,2613.2 1092,2613.4 1089.8,2614.7 1087.6,2616 1086.7,2618.8 1084.3,2620 1082.2,2621.6 1080.1,2623 1078.4,2625 1076.8,2627.3 1073.8,2627.9 1072.1,2629.9 1069.7,2631.4 1068.3,2633.8 1065.8,2635.1 1064.1,2637.4 1061.7,2638.9 1059.4,2640.5 1056.9,2641.9 1055.3,2644.5 1052.2,2645.1 1049.8,2646.8 1047.9,2649.1 1046.2,2651.7 1043.7,2653.3 1040.9,2654.6 1038.9,2656.9 1037.3,2659.7 1034.3,2660.9 1031.8,2662.8 1030.2,2665.8 1027.8,2667.8 1024.9,2669.3 1021.6,2670.4 1019,2672.3 1017.1,2675.1 1014,2676.5 1011.5,2678.8 1008.5,2680.3 1006.3,2683 1003.8,2685.4 1000.5,2686.7 998.1,2689.4 994.9,2691 992,2693.1 990,2696.5 986.6,2698 984.2,2700.9 980.7,2702.4 978.1,2705.2 975.1,2707.6 972.3,2710.2 968.2,2711.2 965.4,2714.1 962.7,2717.1 959,2718.9 955.6,2721 953.4,2725 950,2727.4 946.3,2729.4 942.9,2732 939.2,2734.3 936.8,2738.3 932.7,2740.2 929.8,2743.7 925.7,2745.8 922,2748.5 918.2,2751.3 915.4,2755.4 911.2,2757.7 907,2760.2 902.9,2762.9 899.5,2766.7 895.3,2769.5 891.3,2772.7 887.5,2776.3 883.6,2779.9 878.9,2782.6 874.6,2785.9 869.9,2788.9 864.6,2791.2 861.3,2796.3 856.4,2799.4 851.5,2802.7 847,2806.7 826.2,2828.4 792.1,2855.1 753.6,2888.9 741.7,2896.6 713.5,2920.3 665.2,2945.5 593.5,2968.9" fill="none" stroke="none" marker-start="url(#m4)" marker-mid="url(#m4)" marker-end="url(#m4)"/>
<path d="M709.2,2986.4L714.9,2981.4M800.5,2911L810.4,2903.2" stroke="#000080" stroke-width="4.7" fill="none"/>
<polyline points="1451.3,2375.9 1451.3,2376.4 1449.5,2378.1 1448.1,2380.2 1445.7,2381.4 1443.6,2382.8 1442.2,2385 1439.9,2386.2 1438.5,2388.4 1436.7,2390.1 1435.5,2392.5 1433.1,2393.6 1431.5,2395.5 1429.6,2397.1 1427.9,2399 1426.3,2401 1424.8,2403 1423.7,2405.5 1421,2406.2 1418.3,2407.1 1418.3,2410.7 1416.4,2412.3 1413.3,2412.6 1411.9,2414.9 1410.3,2416.8 1407.8,2417.8 1405.9,2419.3 1404.6,2421.6 1402.7,2423.2 1400.4,2424.4 1398.9,2426.5 1396,2427 1395.7,2430.4 1393.2,2431.3 1391.6,2433.2 1389.6,2434.8 1387.6,2436.3 1385.7,2437.9 1383.4,2439.1 1381,2440.1 1380.8,2443.7 1377.5,2443.7 1376.3,2446.1 1374,2447.2 1372.2,2449 1371.1,2451.6 1369.1,2453 1366.3,2453.6 1365.4,2456.4 1363.8,2458.4 1361.2,2459.2 1358.8,2460.2 1357.5,2462.5 1354.2,2462.5 1353,2464.9 1350.6,2466 1348.9,2467.8 1347.3,2469.8 1345.9,2472.1 1343.9,2473.7 1341.3,2474.4 1339.3,2475.9 1338.1,2478.4 1335.6,2479.2 1333.4,2480.5 1331.4,2481.9 1330.4,2484.7 1328.9,2486.9 1326,2487.3 1323.4,2488 1321.9,2490.2 1319.7,2491.4 1318,2493.2 1316.5,2495.5 1314.1,2496.4 1311.4,2497 1311,2500.6 1308.3,2501.2 1306.7,2503.2 1304.2,2504.1 1302.6,2506.1 1300,2506.8 1298.5,2509 1296.6,2510.6 1295.3,2513 1292.8,2513.9 1290.5,2515.1 1288.5,2516.5 1286.8,2518.4 1284.1,2519 1283,2521.7 1280.3,2522.3 1279.5,2525.3 1276.4,2525.4 1274,2526.4 1272.4,2528.5 1270.2,2529.7 1268.3,2531.4 1267.1,2533.9 1265,2535.2 1262.8,2536.5 1260.8,2538 1259.4,2540.2 1256.3,2540.4 1255.2,2543 1252.6,2543.7 1251.3,2546.1 1249.5,2547.9 1247.5,2549.4 1245.8,2551.2 1243.5,2552.4 1241.4,2553.8 1240.2,2556.2 1238.6,2558.2 1236,2559.1 1234.8,2561.5 1231.8,2561.8 1230.2,2563.8 1228.2,2565.3 1225.8,2566.3 1224.4,2568.5 1222.1,2569.6 1220.8,2572 1218,2572.5 1216.5,2574.6 1214.4,2576.1 1212.4,2577.6 1210.4,2579.1 1209.1,2581.4 1206.9,2582.7 1204.7,2583.9 1202.8,2585.6 1201.3,2587.7 1198.9,2588.6 1197.4,2590.8 1195.2,2592.1 1193.1,2593.4 1190.5,2594.1 1188.8,2596.1 1186.9,2597.6 1185.5,2599.9 1183,2600.8 1181.3,2602.7 1179.9,2605 1177.1,2605.4 1175.9,2607.9 1172.7,2608 1172.2,2611.3 1169.7,2612.3 1168.1,2614.2 1166.1,2615.7 1163.9,2617 1162.3,2619 1160.4,2620.6 1158.4,2622.1 1155.8,2622.8 1153.4,2623.9 1153.1,2627.4 1151.2,2629.1 1148.3,2629.5 1146.9,2631.7 1144.2,2632.4 1143.6,2635.6 1141,2636.3 1139.3,2638.2 1137.2,2639.7 1135,2640.9 1133.5,2643 1130.9,2643.7 1128.9,2645.2 1127.2,2647.2 1125.3,2648.8 1123.1,2650.1 1121.2,2651.6 1119.5,2653.5 1117.7,2655.3 1115.4,2656.4 1114.1,2658.7 1112,2660.1 1109.7,2661.3 1108.4,2663.8 1106.3,2665.3 1103.8,2666.3 1101.3,2667.4 1099.9,2669.7 1098.5,2672.1 1095.4,2672.6 1093.5,2674.5 1092.3,2677.2 1089,2677.5 1088.1,2680.6 1085.4,2681.6 1083,2683.1 1081,2685 1079.5,2687.6 1076.9,2688.9 1074.8,2690.7 1072.8,2692.8 1070.7,2694.7 1067.1,2694.9 1065.6,2697.6 1063.8,2700 1061.3,2701.6 1059.3,2703.9 1056.8,2705.5 1054,2706.9 1052,2709.2 1050.2,2711.8 1047.1,2713 1045.2,2715.5 1041.7,2716.1 1040.5,2719.7 1037.4,2720.8 1034.9,2722.8 1032.6,2725.2 1029.7,2726.7 1028.1,2729.9 1025.6,2732 1022.5,2733.5 1018.9,2734.4 1016.8,2737.1 1013.6,2738.5 1011.6,2741.6 1008.5,2743.2 1005.4,2745 1003.4,2748.1 1000.3,2749.8 996.9,2751.4 994.5,2754.2 991.8,2756.5 988.7,2758.6 986,2761.2 982.8,2763.1 980.3,2766 977.2,2768.2 973.9,2770.3 970.5,2772.2 968.6,2776.1 964.8,2777.7 961.7,2780.2 958.8,2783 956.2,2786.2 952.4,2788.1 948.3,2789.6 945.9,2793.3 942.4,2795.7 939.5,2798.9 935.6,2801 932.2,2803.7 928.6,2806.3 924.5,2808.3 921.6,2811.8 918.8,2815.6 914.8,2818 911,2820.7 907.2,2823.5 904,2827.2 900.9,2831 896.1,2832.8 892.1,2835.7 888.9,2839.7 884.4,2842.1 881.2,2846.2 876.7,2849 873.2,2853 868.1,2855.2 863.8,2858.4 859.9,2862.2 856.2,2866.4 851.2,2869.1 847.2,2873.2 843.1,2877.2 838.7,2881.1 833.6,2884.2 829.2,2888.3 781.7,2925.9 752.1,2950.5 732.8,2965.4 691.3,3002.4 656.3,3030.6 626.1,3049.9 612.7,3060.2" fill="none" stroke="none" marker-start="url(#m5)" marker-mid="url(#m5)" marker-end="url(#m5)"/>
<path d="M779.1,2963.8L810.1,2946.1M850.5,2920.4L859.9,2913.9M927.7,2861L940.6,2851.8" stroke="#FF00FF" stroke-width="4.0" fill="none"/>
<polyline points="1528.3,2358.3 1527.8,2358.1 1526.4,2360.2 1523.9,2361.2 1522.4,2363.2 1521.1,2365.5 1519.3,2367.3 1517.7,2369.2 1515.6,2370.7 1513.6,2372.1 1511.3,2373.3 1510.7,2376.4 1507.7,2376.9 1506.6,2379.4 1505.2,2381.4 1503.1,2382.9 1501.9,2385.3 1499.5,2386.3 1496.4,2386.7 1495.3,2389.1 1493.5,2391 1492.5,2393.6 1490.5,2395.1 1487.3,2395.3 1486.2,2397.8 1484.4,2399.5 1483.1,2401.8 1480.7,2402.8 1478.3,2404 1475.8,2404.9 1475.1,2407.8 1473.4,2409.7 1471,2410.7 1469.9,2413.3 1466.8,2413.6 1466,2416.5 1463.8,2417.7 1462.3,2419.8 1460.1,2421.1 1457.8,2422.2 1456.4,2424.5 1453.7,2425.1 1453.3,2428.5 1450.7,2429.3 1448.6,2430.7 1447,2432.7 1445.1,2434.3 1443.1,2435.8 1441.3,2437.5 1439.9,2439.8 1438.3,2441.8 1435.9,2442.8 1434.4,2444.8 1431.5,2445.4 1430.7,2448.3 1427.5,2448.3 1425.7,2450.1 1423.7,2451.6 1422.6,2454.1 1421.3,2456.5 1419.2,2457.9 1417,2459.2 1415.6,2461.3 1413.3,2462.5 1411.4,2464.1 1409,2465.2 1407.1,2466.8 1405.6,2468.9 1404.2,2471.1 1402.1,2472.5 1400.1,2474.1 1397.9,2475.2 1396,2476.9 1394.8,2479.3 1391.9,2479.8 1391.3,2483 1388.4,2483.4 1386.7,2485.3 1384.4,2486.4 1383.1,2488.8 1380.9,2490.1 1378.5,2491.1 1376.8,2493 1375.5,2495.3 1372.9,2496.1 1371.5,2498.3 1369.6,2499.8 1367,2500.7 1365.4,2502.7 1364.7,2505.7 1361.3,2505.6 1359.7,2507.6 1358.6,2510.1 1356.2,2511.2 1353.8,2512.2 1352.1,2514.1 1350.1,2515.6 1347.5,2516.4 1346.7,2519.3 1345.2,2521.3 1343.2,2522.9 1341,2524.1 1339.3,2526 1337.7,2528 1334.7,2528.3 1333.1,2530.2 1331.7,2532.5 1329.2,2533.5 1327.6,2535.4 1325.5,2536.8 1323,2537.7 1322,2540.4 1320.4,2542.4 1318.4,2543.9 1316.5,2545.6 1314.6,2547.1 1312.4,2548.5 1310.4,2549.9 1308.2,2551.1 1306.1,2552.6 1304.3,2554.3 1303.1,2556.8 1300.9,2558.1 1298,2558.5 1296.9,2561 1295.4,2563.2 1292.4,2563.5 1290.4,2564.9 1288.7,2566.8 1286.5,2568.1 1285.2,2570.5 1284.1,2573 1281.7,2574 1279.3,2575.1 1277.7,2577.1 1275.2,2578 1273.6,2580 1271.7,2581.6 1270.3,2583.8 1268.3,2585.3 1265.9,2586.4 1263.6,2587.5 1261.3,2588.6 1260,2591 1258,2592.5 1256.4,2594.5 1253.8,2595.2 1252.8,2598 1250.4,2599 1248.5,2600.6 1247.2,2603 1245.2,2604.5 1243.2,2606.1 1241.1,2607.6 1238.5,2608.4 1237.1,2610.8 1234.9,2612.3 1232.7,2613.8 1230.2,2615.1 1228,2616.6 1226.2,2618.7 1223.3,2619.5 1221.9,2622.2 1219.7,2624 1217.5,2625.7 1214.9,2627.1 1212.9,2629.1 1210.9,2631.3 1208.3,2632.8 1205.2,2633.6 1204.5,2637.6 1200.9,2637.9 1198.2,2639.5 1196.5,2642.3 1193.9,2644 1191.9,2646.6 1189.2,2648.3 1186.5,2650.1 1183.6,2651.8 1181.5,2654.4 1179.1,2656.8 1175.9,2658 1172.9,2659.8 1170.5,2662.4 1167.9,2664.7 1165.8,2667.8 1162.8,2669.7 1159.7,2671.6 1156.9,2673.9 1153.6,2675.8 1152.1,2679.8 1148.2,2681.1 1145.1,2683.4 1141.7,2685.3 1139,2688.3 1135.4,2690.2 1132.4,2692.9 1129.7,2696.2 1126.3,2698.6 1122.8,2701.1 1120,2704.4 1116.9,2707.5 1112.9,2709.6 1109,2711.8 1105.5,2714.8 1102.5,2718.5 1097.7,2720 1093.7,2722.6 1090.8,2726.7 1087.1,2730 1082.7,2732.5 1077.9,2734.7 1074.5,2738.6 1069.7,2741.2 1066.3,2745.4 1062.9,2749.9 1057.9,2752.5 1054,2756.7 1049.2,2760 1044.9,2764 1040.3,2767.9 1036.2,2772.5 1032.2,2777.4 1026.4,2780.6 1022.6,2786 1017.2,2790.1 1012.4,2795 1007.5,2800 983.8,2818.6 960.1,2837.9 908.2,2874.9 879.5,2900.1 830.9,2934.2 758.3,2975.7" fill="none" stroke="none" marker-start="url(#m6)" marker-mid="url(#m6)" marker-end="url(#m6)"/>
<path d="M795.6,3026.6L829.4,3001.1" stroke="#808080" stroke-width="4.0" fill="none"/>
<polyline points="1534,2427.6 1533.5,2428.4 1531.8,2430.3 1529.4,2431.3 1528,2433.5 1526.9,2436 1524,2436.5 1522.4,2438.5 1520.8,2440.5 1518.6,2441.7 1516.3,2442.9 1515,2445.2 1512.1,2445.7 1510.1,2447.2 1509,2449.7 1506.8,2451 1505.1,2452.9 1503.6,2455 1501.8,2456.7 1499.3,2457.6 1497.1,2458.9 1495.7,2461.2 1494.7,2463.8 1491.7,2464.1 1490,2466 1488.1,2467.7 1486.2,2469.3 1484.7,2471.4 1483,2473.2 1480.5,2474.1 1478.2,2475.2 1476.8,2477.5 1475.5,2479.8 1472.9,2480.6 1471.6,2482.9 1468.5,2483.2 1466.6,2484.7 1465.9,2487.8 1463,2488.3 1460.8,2489.6 1459.4,2491.7 1456.5,2492.2 1455.5,2494.9 1453.9,2496.9 1451.1,2497.4 1450.2,2500.2 1447.4,2500.8 1446.6,2503.8 1443.8,2504.3 1442.1,2506.2 1440,2507.5 1438.1,2509.2 1437,2511.7 1434.4,2512.6 1431.9,2513.4 1431.1,2516.4 1428.5,2517.2 1426.8,2519 1425.2,2521 1421.9,2521 1421.8,2524.8 1419.2,2525.6 1416.2,2525.8 1415.2,2528.6 1413.4,2530.2 1411.1,2531.5 1409.1,2532.9 1407.6,2535.1 1405.9,2536.9 1404.3,2539 1400.9,2538.7 1399.8,2541.3 1397.7,2542.7 1395.7,2544.1 1393.5,2545.5 1391.6,2547 1389.5,2548.5 1388.2,2550.8 1385.8,2551.8 1384.7,2554.4 1382.5,2555.7 1380.4,2557.1 1379.1,2559.4 1376.9,2560.7 1373.9,2561 1373.5,2564.4 1370.9,2565.2 1368.5,2566.2 1367.4,2568.8 1365.1,2570 1363.6,2572.1 1361.1,2573 1359.7,2575.2 1356.5,2575.2 1355,2577.3 1352.9,2578.8 1351.5,2581 1349,2581.9 1347.1,2583.5 1344.9,2584.7 1343,2586.4 1341.1,2588 1339.4,2589.9 1337.6,2591.6 1336,2593.6 1334.7,2595.9 1332.2,2596.9 1329.8,2597.8 1328,2599.6 1325.5,2600.5 1323.7,2602.3 1322.3,2604.5 1320.4,2606.2 1317.9,2607 1316,2608.6 1314.1,2610.3 1311.9,2611.5 1310.3,2613.6 1308.7,2615.5 1306.1,2616.2 1305.1,2619 1302,2619.2 1299.8,2620.4 1298.8,2623.2 1296.4,2624.2 1295.8,2627.4 1292.9,2627.8 1291.5,2630 1289.1,2631 1287.2,2632.7 1284.8,2633.7 1282.5,2634.8 1281.3,2637.2 1279.2,2638.6 1277.4,2640.4 1274.9,2641.3 1274.1,2644.3 1272.5,2646.2 1268.6,2645.4 1267.3,2647.8 1266.3,2650.6 1263.1,2650.5 1262.4,2653.7 1259.7,2654.3 1258.3,2656.5 1256.7,2658.6 1254.4,2659.6 1251.7,2660.3 1249.8,2661.9 1247.6,2663.2 1246.5,2665.8 1244.4,2667.2 1242,2668.2 1240.4,2670.2 1237.9,2671.1 1236.4,2673.2 1233.9,2674.1 1232.5,2676.3 1230.5,2677.8 1229.1,2680 1226.9,2681.5 1225,2683.1 1223.2,2684.9 1220.7,2685.9 1219.2,2688.1 1216.5,2689 1215,2691.3 1213.7,2693.9 1211.3,2695.2 1208,2695.4 1206,2697.2 1203.9,2699 1202.3,2701.4 1199.7,2702.6 1198.6,2705.6 1195.8,2706.6 1192.9,2707.6 1191.2,2709.9 1188.5,2711.2 1187.3,2714.2 1184.4,2715.4 1182,2717 1180.6,2719.9 1177.7,2721.1 1176,2723.8 1173.9,2726 1170.6,2726.9 1168.2,2728.8 1165.4,2730.3 1163.5,2732.9 1160.3,2733.9 1157.6,2735.7 1156,2738.8 1153.1,2740.4 1151.1,2743.1 1149.2,2746 1146.7,2748.2 1144.1,2750.3 1140.4,2751.2 1139.1,2754.9 1135.9,2756.5 1134,2759.6 1129.3,2759.6 1127.3,2762.7 1125.2,2765.7 1121.6,2767.2 1119.5,2770.3 1117.1,2773.1 1114.4,2775.7 1111.4,2778.1 1107.6,2779.5 1106.3,2783.8 1101.3,2784 1100.1,2788.6 1096.7,2790.7 1093.2,2792.8 1089.3,2794.5 1086.9,2798 1084.2,2801.2 1080.7,2803.6 1076.8,2805.5 1074.6,2809.5 1071.3,2812.3 1067.4,2814.4 1064.5,2817.9 1061,2820.7 1056.8,2822.7 1053.1,2825.4 1050.1,2829.2 1046.4,2832.1 1042,2834.1 1038.2,2837.1 1034.6,2840.5 1031.5,2844.6 1026.7,2846.5 1022.6,2849.6 1018.9,2853.3 1014,2855.5 1009.4,2858.1 1006.4,2863.3 1001.3,2865.5 996.7,2868.6 991.3,2870.8 986.7,2874.2 981.7,2877.2 977.4,2881.3 972.6,2885 960.7,2894.2 938.5,2912 923.6,2925.3 900.8,2943.1 886.6,2953.5 848.6,2986.7 776.4,3041 747.6,3064.7" fill="none" stroke="none" marker-start="url(#m7)" marker-mid="url(#m7)" marker-end="url(#m7)"/>
<path d="M913.1,2960.9L941.3,2949.1" stroke="#808000" stroke-width="4.0" fill="none"/>
<polyline points="1581.5,2437.3 1579.7,2438.3 1578.8,2440.7 1576.3,2441.9 1574.5,2443.7 1573.2,2445.9 1571.8,2447.9 1570.5,2450.2 1567.8,2451.2 1566.9,2453.7 1564.9,2455.3 1563.2,2457.1 1561.4,2458.9 1558.9,2459.9 1558.5,2463 1556,2464.1 1554.8,2466.4 1553.1,2468.3 1551,2469.7 1549.3,2471.5 1548.5,2474.2 1546.7,2476 1543.8,2476.6 1543,2479.4 1540.4,2480.4 1539.3,2482.7 1538.4,2485.4 1535.6,2486.2 1533.9,2488 1532.9,2490.6 1530.1,2491.2 1528.1,2492.8 1527.2,2495.4 1524.5,2496.2 1523.6,2498.9 1521.1,2499.9 1520.2,2502.5 1517.8,2503.6 1516,2505.4 1513.7,2506.5 1513.1,2509.6 1509.7,2509.6 1508.6,2512 1507.1,2514.1 1504.4,2514.9 1502.6,2516.5 1501.6,2519.2 1498.4,2519.4 1497.8,2522.4 1495.6,2523.6 1493.3,2524.9 1491.4,2526.4 1489.5,2528 1488.1,2530.3 1486,2531.7 1484.9,2534.2 1481.6,2534.1 1480.2,2536.3 1479.2,2539 1476.4,2539.6 1474.7,2541.4 1473.5,2543.9 1471.3,2545.1 1469.5,2547 1467.4,2548.3 1464.6,2548.8 1463.6,2551.6 1461.9,2553.4 1459.5,2554.4 1457.6,2556.1 1455.2,2557.1 1453.4,2558.8 1451.1,2560 1449.7,2562.2 1448.1,2564.2 1445.4,2564.8 1443.5,2566.5 1442.4,2569.1 1439.9,2570.1 1437.3,2570.8 1436,2573.2 1434.6,2575.5 1432.2,2576.5 1429.6,2577.2 1428,2579.2 1426.9,2581.9 1423.7,2581.8 1422.4,2584.3 1419.4,2584.5 1417.5,2586.1 1416,2588.3 1413.7,2589.5 1412.7,2592.1 1410.5,2593.5 1408.7,2595.2 1406.8,2596.8 1403.5,2596.7 1402,2598.8 1401.1,2601.7 1399,2603 1396,2603.4 1394.4,2605.3 1392.3,2606.6 1390.3,2608.1 1389.6,2611.3 1386.4,2611.4 1384.3,2612.8 1383.1,2615.3 1380.7,2616.2 1379.2,2618.3 1376.1,2618.5 1375.3,2621.5 1372.7,2622.2 1371.3,2624.5 1368.1,2624.5 1367.2,2627.3 1364.8,2628.4 1363.5,2630.7 1361.2,2631.8 1358.3,2632.2 1357.4,2635.2 1355.5,2636.7 1353.7,2638.5 1350.9,2638.9 1349.8,2641.6 1347.4,2642.6 1345.1,2643.8 1343.6,2645.9 1341.7,2647.5 1340.3,2649.7 1337.6,2650.4 1336.3,2652.7 1334.3,2654.3 1331.9,2655.2 1330.3,2657.2 1328,2658.4 1326.3,2660.3 1324.1,2661.5 1321.6,2662.4 1319.8,2664.1 1318.6,2666.6 1315.2,2666.3 1314.3,2669.3 1311.7,2670 1309.8,2671.7 1307.8,2673.1 1306.5,2675.5 1304.5,2677 1302.3,2678.2 1299.9,2679.2 1297.7,2680.6 1295.9,2682.2 1294.2,2684.2 1292.1,2685.6 1289.8,2686.7 1288.7,2689.3 1285.6,2689.4 1284.6,2692.1 1282.3,2693.3 1280.4,2695 1278.4,2696.4 1276.1,2697.5 1273.9,2698.8 1272,2700.5 1271,2703.2 1268.5,2704.1 1267.1,2706.4 1265.3,2708.3 1262.2,2708.4 1261.1,2711.3 1258.5,2712.2 1256.1,2713.4 1254.1,2715.1 1252.1,2716.9 1250.1,2718.8 1248,2720.6 1245.3,2721.6 1243,2723 1241.5,2725.7 1239,2727 1236.7,2728.7 1234.3,2730.3 1232.1,2732.1 1230.3,2734.6 1226.6,2734.6 1225.1,2737.5 1222.7,2739.4 1220.3,2741.1 1217.3,2742.2 1215.7,2745.2 1213,2746.9 1211,2749.4 1208,2750.6 1206.2,2753.6 1202.8,2754.4 1200.4,2756.6 1197.4,2758.2 1194.5,2759.9 1191.9,2762 1189.2,2764.1 1187.6,2767.6 1183.6,2768.1 1180.7,2770.1 1177.8,2772.1 1175.5,2775 1172.3,2776.8 1170.1,2779.9 1166.6,2781.4 1163.4,2783.4 1161.2,2786.7 1157.9,2788.7 1154.4,2790.4 1151.7,2793.4 1148.4,2795.5 1145.7,2798.6 1143.2,2801.9 1139.4,2803.8 1135.8,2806 1133.1,2809.4 1129.8,2812.1 1126.1,2814.4 1123.3,2818 1119.5,2820.3 1116.1,2823.4 1112.6,2826.3 1109.2,2829.5 1105.8,2832.8 1101.7,2835.3 1099.6,2840.3 1095.6,2843.1 1091.6,2846.2 1087.8,2849.5 1084.6,2853.7 1080,2856.3 1075.9,2859.7 1072.7,2864.3 1067.8,2867 1063.1,2869.9 1059.5,2874.5 1054.2,2877 1050.1,2881.3 1045.2,2884.7 1040.1,2888 1034.5,2890.8 1029.8,2895.1 1024.5,2898.8 1019,2902.4 1012.6,2905 1007.5,2909.7 1001.6,2913.5 962.5,2940.2 891.9,2969.8 863.2,2975.7" fill="none" stroke="none" marker-start="url(#m8)" marker-mid="url(#m8)" marker-end="url(#m8)"/>
<polyline points="1576.1,2501.3 1575,2501.6 1574.5,2504.7 1571,2504.7 1570,2507.3 1567.6,2508.3 1567,2511.3 1564.3,2512.1 1562.8,2514.2 1560.3,2515.1 1558.1,2516.4 1557.5,2519.5 1555.3,2520.8 1552.4,2521.3 1550.9,2523.3 1549.4,2525.5 1548,2527.7 1544.8,2527.8 1544.3,2531.1 1541,2531 1539.2,2532.9 1537.5,2534.7 1535.9,2536.7 1534.1,2538.3 1531.3,2539 1530.3,2541.6 1527.8,2542.5 1526.1,2544.4 1524.4,2546.2 1522.6,2548 1520.4,2549.3 1519.5,2552 1517.1,2553.2 1514.8,2554.3 1512.5,2555.4 1511,2557.6 1508.8,2558.8 1508.2,2561.9 1505.4,2562.5 1504.1,2564.9 1501.8,2566 1499.9,2567.6 1498.1,2569.3 1496.2,2570.9 1494.6,2573 1491.7,2573.4 1489.7,2574.9 1488.2,2577 1485.8,2578 1483.7,2579.4 1482.3,2581.6 1479.9,2582.7 1478.4,2584.7 1477.3,2587.4 1474.2,2587.5 1472.5,2589.4 1470.9,2591.3 1467.6,2591.2 1466.3,2593.6 1464.8,2595.7 1462.1,2596.4 1460.2,2598 1459.3,2600.9 1457.2,2602.3 1454.1,2602.4 1453,2605.1 1450.9,2606.4 1448.8,2607.8 1446.7,2609.1 1445.5,2611.7 1443.1,2612.7 1441.8,2615 1439.5,2616.1 1436.6,2616.6 1434.3,2617.7 1433.2,2620.3 1431.6,2622.4 1429.7,2624 1426.7,2624.2 1425.3,2626.5 1423.1,2627.7 1421.6,2629.8 1419.3,2630.9 1416.6,2631.6 1415.6,2634.4 1413,2635.1 1410.8,2636.3 1409.2,2638.4 1407.2,2639.9 1405.8,2642.1 1403.1,2642.8 1401.5,2644.7 1399.7,2646.5 1397.5,2647.7 1395.3,2648.9 1393.1,2650.3 1391.8,2652.5 1389.4,2653.7 1386.9,2654.4 1385.8,2657.2 1384.8,2659.9 1381.9,2660.3 1380,2661.9 1377.4,2662.6 1375.9,2664.8 1373.8,2666 1372.6,2668.6 1370.8,2670.4 1368.3,2671.2 1366.4,2672.9 1364.1,2674 1361.7,2675 1360.5,2677.5 1359,2679.6 1355.9,2679.7 1354.3,2681.8 1352.2,2683.1 1350.7,2685.3 1348.6,2686.7 1346.4,2687.8 1344.1,2689 1342.8,2691.5 1339.9,2691.8 1337.9,2693.3 1336.5,2695.6 1333.9,2696.2 1332.4,2698.4 1330.3,2699.8 1328.1,2701 1326.3,2702.8 1325.3,2705.5 1323.4,2707.1 1320.4,2707.4 1318.3,2708.7 1317.3,2711.6 1315.2,2713 1312.7,2713.9 1311,2715.6 1309.1,2717.3 1306.2,2717.7 1304.8,2719.9 1303.1,2721.8 1300.9,2723 1299,2724.7 1297.3,2726.5 1294.6,2727.1 1293,2729.1 1290.6,2730.2 1289.2,2732.6 1286.8,2733.6 1284.9,2735.4 1282,2736 1281.4,2739.5 1278.8,2740.5 1276.2,2741.5 1274.2,2743.3 1271.9,2744.8 1269.8,2746.7 1267.7,2748.5 1265.6,2750.3 1262.7,2751.2 1260.8,2753.5 1258.2,2754.8 1256.8,2757.9 1254.3,2759.5 1251.6,2760.8 1249,2762.4 1247.5,2765.5 1243.8,2765.8 1242.1,2768.6 1238.9,2769.6 1237.6,2773.1 1234.1,2773.9 1232.1,2776.6 1229,2778 1226.3,2779.9 1223.4,2781.7 1220.9,2784 1218.9,2787 1215.1,2787.8 1212.5,2790.2 1210,2792.8 1207.3,2795.3 1203.3,2796 1200.5,2798.5 1197.3,2800.5 1194.4,2803 1191.1,2805 1187.8,2807.1 1185.2,2810.1 1181.7,2812.2 1178.4,2814.7 1175.2,2817.3 1172.3,2820.3 1168.4,2822.2 1164.9,2824.7 1161.4,2827.4 1157.8,2829.9 1154.6,2833.2 1150.4,2835.2 1147.5,2839.1 1143.6,2841.7 1139.5,2844.2 1136.1,2847.9 1130.9,2849.3 1127.3,2852.9 1123.6,2856.6 1119.5,2859.8 1114.1,2861.5 1110.6,2865.9 1106.3,2869.4 1101.5,2872.3 1097.5,2876.6 1093,2880.3 1087.7,2883.3 1083.9,2888.4 1078.5,2891.7 1073.4,2895.4 1067.7,2898.7 1063.3,2903.9 1057.6,2907.8 1052,2912 1034.2,2920.9 1029.6,2925 1006.7,2940.8 980.9,2952 954.2,2975.7 949.1,2977.3 943.9,2979 939,2981.7 934.6,2985.3 928.9,2985.9 923.8,2988.1 919,2990.9 913.6,2992.3 909,2995.5 903.4,2996.2 898.7,2999.2 893.4,3000.8 888.3,3002.9 883.3,3005.1 878.2,3007.3 873.2,3009.5 868.1,3011.7 863.1,3014 857.7,3015.3 852.9,3018.1 847.6,3019.7 842.7,3022.2 837.1,3022.9 832.2,3025.5 827.6,3028.8 822.4,3030.6 817,3032 798,3044 764,3051.4" fill="none" stroke="none" marker-start="url(#m9)" marker-mid="url(#m9)" marker-end="url(#m9)"/>
<polyline points="1773.2,2417.8 1773.3,2418 1771.1,2419.3 1770.3,2422.2 1767.6,2423 1765.1,2423.8 1763.5,2425.8 1761.7,2427.6 1759.9,2429.3 1757.2,2430 1755.8,2432.2 1753.9,2433.8 1752.4,2436 1750,2436.9 1748,2438.5 1746.2,2440.3 1744.3,2441.9 1742.4,2443.5 1740.6,2445.2 1738.7,2446.9 1736.3,2447.9 1734.1,2449.2 1732.8,2451.5 1730.2,2452.3 1728.5,2454.1 1726.9,2456.2 1725.7,2458.6 1722.4,2458.6 1721.9,2461.9 1718.4,2461.5 1717.5,2464.4 1715.3,2465.6 1713.7,2467.7 1711.6,2469.1 1709.8,2470.8 1707.3,2471.7 1706.1,2474.1 1703.6,2475.1 1702.7,2477.9 1699.4,2477.9 1698.8,2481 1695.7,2481.1 1694.7,2483.9 1691.7,2484.2 1690.9,2487.2 1687.4,2486.9 1687.3,2490.7 1684.7,2491.4 1683.9,2494.4 1679.6,2493.1 1679.1,2496.4 1675.8,2496.4 1676.1,2500.7 1672.7,2500.5 1671.7,2503.2 1668.8,2503.6 1668,2506.6 1665.1,2506.9 1663.8,2509.3 1660.5,2509.2 1659.1,2511.4 1656.5,2512.2 1655.9,2515.5 1653.3,2516.3 1653.3,2520.2 1649.6,2519.5 1648.9,2522.7 1644.5,2521.2 1644.5,2525.2 1640.6,2524.4 1640.3,2527.9 1637.2,2528.2 1637.1,2531.9 1633.6,2531.6 1632.5,2534.2 1628.9,2533.8 1629.1,2538 1625.9,2538 1625.5,2541.5 1622.7,2542 1621.3,2544.2 1618,2544.2 1618.1,2548.2 1614.5,2547.8 1613.6,2550.6 1609.9,2550 1610.6,2554.8 1605.7,2552.8 1605.7,2556.7 1602.3,2556.5 1602.5,2560.7 1598.5,2559.7 1598.2,2563.3 1594.4,2562.6 1594.3,2566.5 1590.8,2566.2 1590.5,2569.8 1587,2569.4 1586.2,2572.4 1582.3,2571.6 1582.5,2575.8 1578.6,2574.9 1578.8,2579.1 1574.6,2577.9 1575.1,2582.5 1571.3,2581.8 1571.2,2585.7 1566.1,2583.3 1567.3,2588.8 1562,2586.2 1563.1,2591.6 1559.1,2590.5 1559.5,2595.1 1555.2,2593.7 1555.3,2597.7 1551.1,2596.5 1551.4,2600.9 1547.2,2599.7 1548.3,2605.1 1543.1,2602.5 1544.3,2608 1539.2,2605.7 1540.4,2611.3 1536.1,2609.9 1535.6,2613.2 1531.7,2612.4 1532.5,2617.4 1527.5,2615.1 1528.1,2619.8 1523.9,2618.6 1524.2,2622.9 1519.8,2621.4 1519.7,2625.4 1516.6,2625.4 1516.8,2629.8 1512.4,2628.2 1512.5,2632.3 1507.9,2630.6 1508.6,2635.5 1504.3,2634.1 1504.7,2638.6 1500.4,2637.2 1501.3,2642.4 1496.3,2640.1 1497.1,2645.2 1492.1,2642.8 1492.9,2647.9 1488.6,2646.5 1488.7,2650.6 1484.2,2648.9 1485.3,2654.4 1480.7,2652.6 1481,2657 1477.3,2656.4 1477.6,2660.7 1473.7,2659.9 1474,2664.3 1468.5,2661.3 1468.7,2665.6 1464.5,2664.4 1465.3,2669.5 1461.1,2668 1461.2,2672.2 1456.9,2670.8 1458,2676.4 1452.7,2673.5 1454.2,2679.6 1449.5,2677.6 1449.9,2682.2 1445.2,2680.2 1446.3,2685.7 1441.9,2684.1 1441.3,2687.5 1437.7,2686.9 1437.6,2690.8 1433,2689 1434,2694.3 1430.3,2693.6 1430.4,2697.8 1425.1,2695.1 1425.5,2699.6 1421,2697.9 1422.8,2704.3 1417.2,2701.3 1417.7,2706 1413.6,2704.8 1414,2709.4 1408.8,2706.8 1410.1,2712.5 1405.4,2710.5 1406.7,2716.2 1401.5,2713.7 1402,2718.3 1397.8,2717.1 1397.8,2721 1394.4,2720.8 1394.9,2725.5 1391,2724.6 1391.2,2728.9 1385.3,2725.4 1387,2731.6 1382.4,2729.9 1382.9,2734.4 1378.7,2733.2 1379,2737.5 1374.2,2735.6 1375.2,2740.8 1370.7,2739.3 1370.3,2742.7 1367.5,2743.3 1367,2746.5 1362.7,2745.3 1363.3,2749.9 1358.4,2747.9 1359.6,2753.4 1355.5,2752.2 1355.2,2755.9 1352.1,2756.1 1351.9,2759.9 1346.6,2757.4 1347.1,2762.1 1342.7,2760.8 1343.3,2765.6 1339.6,2765.2 1339.3,2769 1334.9,2767.9 1335.2,2772.5 1331.6,2772.2 1331.4,2776.3 1326.5,2774.6 1327.2,2779.8 1322.2,2778 1323.2,2783.6 1317.5,2781 1317.9,2786 1313.1,2784.6 1314,2790.2 1309.7,2789.4 1310.5,2795 1305,2792.8 1304.8,2797.2 1300.3,2796.3 1300,2800.6 1295.7,2800.1 1296,2805.2 1290.9,2803.7 1290.7,2808.4 1286,2807.4 1286.1,2812.5 1281.4,2811.5 1281.7,2816.9 1277.2,2816.4 1276,2819.9 1271.8,2819.8 1271.3,2824.3 1266.4,2823.4 1265.6,2827.7 1261,2827.1 1261.1,2832.7 1256,2831.6 1256.5,2837.7 1250,2834.8 1251.3,2842.1 1245.6,2840.4 1245.3,2845.8 1240,2844.6 1240,2850.5 1234.3,2848.9 1233.8,2854.3 1228.5,2853.3 1227.9,2858.6 1221.8,2856.6 1222.2,2863.4 1216.3,2861.7 1215.5,2867 1209.9,2865.9 1209.1,2871.2 1204.3,2871.2 1203.6,2877 1197.7,2875.7 1196.3,2880.6 1191.7,2881.1 1189.7,2885.3 1185,2885.8 1183.7,2891.1 1177.8,2890.2 1176.5,2895.6 1170.8,2895.1 1169.5,2900.5 1164.7,2901.5 1163.1,2906.7 1156.1,2904.7 1155.5,2911.4 1148.5,2909.7 1148.4,2917.3 1142.5,2917.2 1140.6,2922.4 1134.6,2922.5 1133.6,2929 1126.3,2927.6 1125.7,2934.8 1119,2934.4 1118.1,2941.5 1111.4,2941.2 1109.8,2947.5 1103.4,2947.7 1100.9,2953.2 1094.4,2953.3 1092.1,2959.3 1086.3,2960.5 1083.3,2966.1 1076.2,2965.4 1073.7,2972.1 1066.8,2971.9 1063.4,2977.4 1057.3,2978.9 1053,2983.3 1047.2,2985.5 1042.8,2990.3 1036.2,2991.5 1031.8,2996.7 1025.3,2998.4 1019.7,3001.9 1013.3,3004.2 1008.2,3009.2 1001.2,3010.7 995,3014" fill="none" stroke="none" marker-start="url(#m10)" marker-mid="url(#m10)" marker-end="url(#m10)"/>
<polyline points="1760.5,2537.8 1758.3,2538.7 1756.2,2540.2 1754.1,2541.5 1751.5,2541.9 1749.6,2543.7 1747.5,2545.1 1744.8,2545.4 1743.3,2547.9 1740.9,2548.7 1738.8,2550.1 1736.3,2550.7 1734.4,2552.5 1732.5,2554.2 1730.3,2555.4 1727.4,2555.3 1725.4,2556.9 1723.7,2559 1721.3,2559.8 1718.9,2560.8 1716.5,2561.5 1714.9,2563.9 1712.7,2565.1 1710.4,2566.1 1707.7,2566.3 1706.6,2569.5 1703.5,2569.1 1701.1,2570 1699.4,2572 1697.5,2573.8 1694.9,2574.3 1693,2575.9 1691,2577.5 1688.3,2577.8 1686.7,2580.1 1684.8,2581.8 1682.1,2582.2 1679.8,2583.2 1678.3,2585.5 1675.8,2586.2 1674.3,2588.6 1671.9,2589.4 1669.7,2590.6 1667.5,2591.9 1665.4,2593.3 1662.1,2592.7 1660.7,2595.1 1658.5,2596.3 1657,2598.7 1654,2598.5 1652.3,2600.6 1650.9,2603.1 1648.1,2603.3 1646.2,2604.9 1643.9,2605.9 1641.6,2607 1640.1,2609.3 1637.2,2609.5 1635.8,2611.9 1633.6,2613.2 1630.9,2613.5 1628.7,2614.7 1626.4,2615.8 1624.6,2617.6 1622.4,2618.7 1620.2,2620 1618.7,2622.2 1615.9,2622.5 1614.3,2624.6 1612.2,2626.1 1609.5,2626.4 1607.6,2628.1 1605.8,2630 1603.1,2630.4 1601.4,2632.3 1598.7,2632.8 1597.1,2634.9 1595.2,2636.5 1593.3,2638.2 1590.4,2638.4 1588.8,2640.4 1586.2,2641 1584.7,2643.4 1582.6,2644.7 1580.1,2645.4 1578.6,2647.7 1576.1,2648.5 1573.8,2649.5 1571.7,2650.9 1569.3,2651.7 1567.1,2653 1565.8,2655.5 1563.3,2656.3 1561.3,2657.8 1560.1,2660.5 1556.6,2659.7 1555,2661.8 1553.4,2663.9 1550.8,2664.5 1549.1,2666.5 1547.3,2668.2 1544.7,2668.9 1542.8,2670.6 1541.5,2673 1538.3,2672.8 1536.9,2675.2 1533.6,2674.8 1532.9,2678.2 1530.4,2678.9 1527.3,2678.8 1525.9,2681.2 1523.9,2682.6 1521.9,2684.2 1519,2684.3 1517.4,2686.4 1516.5,2689.5 1513.5,2689.5 1511.8,2691.5 1508.9,2691.7 1507.6,2694.3 1506.2,2696.6 1502.9,2696.3 1501.2,2698 1498.7,2698.9 1497.2,2701 1495.6,2703.2 1492.2,2702.7 1491,2705.3 1489.5,2707.4 1487,2708.3 1485.3,2710.2 1483,2711.4 1481.3,2713.2 1479.3,2714.7 1477.1,2715.9 1474.9,2717.2 1472.9,2718.8 1471,2720.5 1469.2,2722.4 1466.5,2723.1 1464.9,2725.4 1462.5,2726.6 1460.3,2728.3 1458.1,2729.9 1456.4,2732.2 1453.5,2733 1451.5,2735.1 1449,2736.5 1446.6,2738.2 1443.8,2739.3 1442.4,2742.4 1439.9,2744 1437.7,2746.2 1434.6,2747.1 1431.9,2748.7 1429.9,2751.4 1427.1,2752.9 1424.4,2754.8 1421.9,2756.8 1419.1,2758.7 1417,2761.5 1414,2763.2 1411.2,2765.1 1408.5,2767.4 1404.6,2768.1 1402.7,2771.8 1399.6,2773.6 1395.8,2774.7 1392.8,2777.1 1389.4,2778.9 1385.2,2779.5 1382.3,2782.4 1378.8,2784.5 1374.5,2785.2 1371.3,2788 1367,2789.2 1363.6,2792 1360,2794.7 1356,2796.9 1351.9,2799 1347.7,2801.2 1343.4,2803.2 1339.4,2806.2 1335.2,2808.8 1330.4,2810.8 1325.9,2813.2 1320.8,2815.1 1316.1,2817.8 1311.6,2821.2 1306.1,2823 1300.5,2825 1294.8,2826.9 1289.7,2830.5 1283.9,2832.9 1278.3,2836.2 1272.2,2838.9 1265.9,2841.5 1259.6,2844.8 1253.5,2849 1246.1,2850.8 1239.3,2854.6 1232,2857.8 1215.9,2869 1205.8,2876 1194.6,2885.1 1179.5,2897.2 1157.2,2909.4 1131,2924.5 1100.6,2940.7 1075,2962 1051,2982 1034.2,2992 1017.9,3002.4" fill="none" stroke="none" marker-start="url(#m11)" marker-mid="url(#m11)" marker-end="url(#m11)"/>
<path d="M995.9,2970.9L1015.7,2968.8" stroke="#008000" stroke-width="4.5" fill="none"/>
<polyline points="1736.2,2541 1736.1,2542.5 1733.7,2543.5 1731.1,2544.1 1729.1,2545.7 1727.8,2548.1 1725.3,2549 1723,2550.1 1721.8,2552.6 1719.7,2554.1 1717.7,2555.5 1715,2556.1 1713.1,2557.7 1711.8,2560.1 1709,2560.5 1706.6,2561.5 1705.1,2563.7 1703.3,2565.5 1700.7,2566.1 1699.9,2569.3 1697.4,2570.1 1695.6,2571.9 1692.7,2572.2 1691.6,2574.9 1689.4,2576.1 1687.4,2577.7 1684.7,2578.1 1682.8,2579.8 1681.6,2582.4 1679,2583 1677.1,2584.6 1675.3,2586.4 1672.9,2587.4 1670.9,2588.9 1669,2590.6 1667.8,2593.1 1664.6,2593 1663.5,2595.8 1661.4,2597.2 1659.3,2598.5 1656.6,2598.9 1655.6,2601.9 1652.8,2602.3 1650.3,2603.2 1648.6,2605.1 1646.9,2607 1644.4,2607.8 1642.7,2609.7 1640.6,2611 1638.2,2611.9 1636.1,2613.3 1634.5,2615.3 1632.3,2616.6 1630.1,2617.9 1628.3,2619.6 1625.6,2620.1 1624,2622.2 1622.5,2624.4 1620.5,2625.9 1618.6,2627.5 1616.5,2628.9 1614.2,2630 1612.1,2631.3 1609.8,2632.4 1607.6,2633.6 1605.9,2635.6 1604.2,2637.4 1602.3,2639.1 1600.7,2641.1 1597.8,2641.5 1595.9,2643.1 1594.6,2645.6 1591.8,2645.9 1589.5,2647 1587.8,2648.9 1586.1,2650.8 1583.3,2651.2 1581.1,2652.5 1579.4,2654.3 1577.6,2656.1 1575.9,2658.1 1574.3,2660.2 1570.9,2659.7 1569.9,2662.5 1567.7,2663.8 1565.6,2665.2 1563.2,2666.1 1562,2668.7 1558.9,2668.7 1557.7,2671.3 1555.4,2672.4 1552.8,2673 1550.8,2674.6 1549.5,2677 1546.8,2677.5 1546,2680.7 1542.9,2680.7 1541.9,2683.6 1538.7,2683.4 1537.2,2685.6 1534.7,2686.3 1532.8,2688 1531,2689.9 1528.5,2690.6 1527.2,2693.2 1524.6,2693.8 1522.8,2695.5 1521,2697.4 1518.4,2697.9 1515.9,2698.8 1514.8,2701.5 1512.1,2702.1 1510.4,2704 1509,2706.3 1507.3,2708.3 1503.8,2707.7 1502.6,2710.3 1500.2,2711.2 1498.7,2713.4 1496.6,2714.8 1494.2,2715.7 1492.3,2717.4 1489.5,2717.8 1487.5,2719.2 1485.6,2720.9 1483.9,2722.8 1481.6,2724 1479.4,2725.2 1477.5,2727 1475.1,2728.2 1473.1,2729.9 1470.8,2731.3 1469.3,2733.8 1467.1,2735.4 1465.3,2737.8 1462.5,2738.6 1459.7,2739.6 1457.7,2741.8 1454.7,2742.6 1452.2,2744.1 1450.4,2746.8 1447,2747.3 1445.4,2750.4 1443,2752.3 1440.3,2754.1 1437.3,2755.4 1434.4,2757 1432.8,2760.4 1429.3,2761.4 1425.9,2762.3 1423.8,2765.4 1420.8,2767.3 1418,2769.6 1414.7,2771.3 1411.7,2773.4 1408.7,2775.6 1405.9,2778.3 1401.8,2779.2 1398.8,2781.9 1395.5,2784.3 1392.2,2786.8 1389.2,2789.8 1385.7,2792.2 1381,2793.1 1377.5,2795.9 1374.6,2799.8 1370.4,2801.9 1367.1,2805.5 1362.6,2807.5 1358.6,2810.3 1354.2,2812.8 1350.5,2816.7 1344.6,2817.2 1340.2,2820.2 1335.9,2823.9 1330.3,2825.5 1325.7,2829.2 1320.8,2832.9 1314.7,2834.6 1309,2837.3 1302.5,2839 1296.4,2842 1290.7,2846.3 1283.8,2848.7 1276.9,2851.6 1269.5,2854.1 1262,2857 1246.2,2864.9 1226,2879 1211.8,2890.2 1196,2898.5 1180,2908 1162.5,2917.7 1133.5,2932.5 1119.5,2940.5 1074,2960.6 1039.6,2966.3 972,2973.4" fill="none" stroke="none" marker-start="url(#m12)" marker-mid="url(#m12)" marker-end="url(#m12)"/>
<path d="M898.4,3051.4L958.1,3032.1M1003.2,3015.9L1014.9,3011.2" stroke="#FF0F8A" stroke-width="3.2" fill="none"/>
<polyline points="1669.5,2622.5 1669.3,2622.9 1666.9,2623.9 1664.9,2625.3 1662.9,2626.8 1660.1,2627 1657.7,2628 1655.7,2629.5 1654.2,2631.7 1652.3,2633.5 1649.5,2633.8 1648,2636.1 1646.5,2638.3 1643.3,2637.9 1641.1,2639.2 1639.6,2641.5 1637.7,2643.1 1635.4,2644.2 1633.5,2645.9 1630.5,2645.8 1629.3,2648.6 1627.1,2649.8 1624.6,2650.5 1622.6,2652 1620.7,2653.7 1618.5,2655 1617,2657.2 1614.1,2657.3 1612.2,2658.9 1610,2660.2 1607.3,2660.5 1605.7,2662.7 1603,2663.1 1601.5,2665.5 1599.4,2666.8 1597.6,2668.6 1594.9,2669.1 1592.9,2670.6 1590.6,2671.6 1589.3,2674.1 1586.1,2673.9 1584.6,2676.1 1582.5,2677.6 1580.4,2678.9 1578.9,2681.2 1576.3,2681.7 1574.4,2683.4 1572.7,2685.4 1569.8,2685.6 1567.7,2686.9 1566.3,2689.3 1564.4,2691 1561.8,2691.5 1559.8,2693.1 1557.5,2694.1 1555.6,2695.8 1553.9,2697.8 1552.2,2699.6 1549.6,2700.3 1547.4,2701.5 1544.7,2701.9 1542.8,2703.6 1540.7,2705 1539.2,2707.2 1536.8,2708.1 1535.1,2710.1 1532.4,2710.5 1531,2712.8 1528.2,2713.3 1526.5,2715.1 1524.1,2716.1 1522,2717.4 1520.2,2719.2 1517.5,2719.8 1516.2,2722.3 1514.5,2724.1 1511.4,2724.1 1509.9,2726.4 1507.7,2727.5 1505.3,2728.4 1504.1,2731.1 1501.5,2731.7 1499.1,2732.7 1497.8,2735.2 1495.1,2735.6 1493.5,2737.8 1491.2,2738.9 1489.7,2741 1487.9,2742.8 1485.8,2744.1 1482.3,2743.5 1482,2747.5 1478.4,2746.8 1477.4,2749.6 1474.8,2750.2 1472.1,2750.9 1471.6,2754.5 1468.7,2754.7 1466.3,2755.6 1465.2,2758.4 1462.6,2759.1 1460.7,2760.7 1459,2762.7 1456.9,2764 1454.8,2765.4 1452.8,2766.8 1450.6,2768.1 1448.9,2769.9 1447.1,2771.7 1444.5,2772.5 1443.1,2774.8 1440.9,2776 1439.4,2778.2 1436.9,2779 1434.7,2780.3 1432.5,2781.5 1430.2,2782.5 1428.2,2784.1 1426.8,2786.4 1423.7,2786.3 1422.9,2789.6 1419.4,2789.1 1417.9,2791.4 1415.6,2792.7 1414.1,2795.1 1411.6,2796.2 1409.8,2798.4 1407.7,2800.2 1404.8,2800.9 1402.5,2802.6 1400.7,2805 1397.3,2805.1 1395.2,2807.3 1392.8,2809.1 1389.9,2810.2 1387.4,2811.9 1384.9,2813.9 1382.5,2815.9 1379.1,2816.6 1376.4,2818.5 1373.6,2820.2 1371.1,2822.6 1368,2824.1 1365.4,2826.6 1362.1,2828 1358.3,2828.6 1354.9,2830 1352.3,2833.1 1349.1,2835.1 1346,2837.5 1342,2838.4 1339.1,2841.4 1335.1,2842.5 1331.5,2844.6 1327.3,2845.8 1323.4,2847.7 1319.6,2850 1315.7,2852.3 1311.9,2855.1 1307.2,2856.2 1302.8,2858.3 1298,2859.9 1293.8,2862.8 1288.9,2864.7 1284.1,2867.1 1279.7,2870.5 1275,2873.9 1269,2874.7 1263.9,2877.7 1258.1,2880 1252.9,2883.6 1247,2886.2 1241.3,2889.8 1235.7,2893.9 1229.3,2897.2 1222.7,2900.7 1216.1,2904.7 1210,2910 1198.6,2917.4 1187,2924 1173,2932.6 1158,2941 1143,2950 1124,2961 1103,2973 1078,2988 1037.2,3002.4 980.9,3024.7 875.6,3058.8" fill="none" stroke="none" marker-start="url(#m13)" marker-mid="url(#m13)" marker-end="url(#m13)"/>
<path d="M797.3,3058.8L885.3,3052.7M925,3047.9L944.9,3044.4" stroke="#9400D3" stroke-width="4.5" fill="none"/>
<polyline points="1638,2658.7 1638.1,2660.4 1635.8,2661.3 1633.1,2661.6 1630.8,2662.6 1629,2664.5 1625.9,2664.1 1623.9,2665.8 1621.9,2667.2 1619.8,2668.6 1618.3,2671.2 1615.6,2671.3 1613,2671.8 1611.3,2674.1 1609.1,2675.1 1606.7,2676.1 1604.6,2677.3 1602.6,2678.9 1600.4,2680.1 1598.5,2681.9 1595.8,2682.1 1594,2684 1591.2,2684.1 1589.3,2685.9 1586.6,2686.3 1584.9,2688.3 1583,2690 1580.9,2691.3 1579.1,2693.3 1576.4,2693.5 1574.3,2695.1 1571.8,2695.7 1569.8,2697.2 1567.7,2698.5 1565.5,2699.8 1564.2,2702.4 1561.2,2702.3 1559.6,2704.5 1557.2,2705.4 1554.6,2705.9 1552.9,2707.8 1550.6,2709 1548.3,2710 1546.8,2712.3 1544.8,2713.8 1542.5,2714.9 1540.1,2715.7 1538.6,2718 1536,2718.6 1534,2720.1 1531.3,2720.4 1529,2721.5 1527.3,2723.5 1525.5,2725.3 1523.2,2726.4 1521.5,2728.3 1519.2,2729.4 1516.8,2730.3 1514.8,2731.8 1512.9,2733.3 1511,2735.1 1508.9,2736.5 1506.4,2737.2 1504.5,2738.8 1502.3,2740 1499.8,2740.8 1497.6,2741.9 1496,2744 1494.3,2746 1491.9,2746.8 1489.6,2747.9 1488.7,2751 1485.9,2751.4 1484.3,2753.4 1481.2,2753.4 1479.5,2755.3 1477.6,2757 1475.5,2758.3 1473.9,2760.3 1471.8,2761.7 1469.2,2762.4 1467,2763.5 1465.2,2765.4 1463.6,2767.4 1462.4,2769.9 1459.2,2769.8 1457.3,2771.5 1455.5,2773.2 1453.4,2774.7 1451.2,2776 1449.5,2777.8 1447.7,2779.6 1446,2781.5 1442.8,2781.4 1440.8,2782.9 1439.4,2785.2 1437.9,2787.3 1435.8,2788.8 1433.6,2790 1431.7,2791.6 1429.8,2793.2 1426.9,2793.5 1425.4,2795.7 1423.6,2797.6 1421.2,2798.5 1419.4,2800.2 1416.4,2800.4 1415.6,2803.5 1413.2,2804.4 1412,2807.1 1408.6,2806.7 1407.9,2810 1405.2,2810.5 1403,2811.7 1400.2,2812 1398.8,2814.4 1397.1,2816.4 1395.3,2818.1 1393.7,2820.3 1390.8,2820.4 1389.6,2823 1386.7,2823.3 1385,2825.3 1382.7,2826.4 1380.4,2827.4 1378.1,2828.4 1376.2,2830.1 1374.1,2831.4 1372.4,2833.4 1369.9,2834.2 1367.7,2835.4 1366.4,2837.9 1364.5,2839.6 1362,2840.3 1359.9,2841.7 1357.9,2843.2 1356.1,2845 1353.8,2846.1 1351.7,2847.4 1349.4,2848.5 1347.5,2850.2 1346,2852.4 1343,2852.4 1341.8,2855.2 1338.4,2854.5 1336.4,2856 1334.9,2858.2 1332.6,2859.4 1329.7,2859.3 1329.1,2863.2 1326.3,2863.3 1323.9,2864.3 1322,2866.1 1319.8,2867.5 1317.5,2868.7 1315.4,2870.5 1312.6,2871.1 1311,2873.6 1307.7,2873.6 1305.8,2875.8 1304,2878.3 1300.5,2878.1 1298.4,2880.2 1295.9,2881.7 1293.1,2883 1290.5,2884.5 1288.2,2886.5 1285.3,2887.8 1283,2890.1 1280.1,2891.4 1277.4,2893.3 1274.3,2894.6 1271.6,2896.4 1268.2,2897.4 1266.3,2901 1262.9,2902.1 1259.6,2903.5 1256.5,2905.4 1254.1,2908.6 1250.4,2909.7 1246.1,2909.8 1244,2914 1240,2914.9 1236.6,2916.9 1233.2,2919.3 1229.6,2921.3 1225.6,2922.9 1222.7,2926.4 1218,2927.3 1214.2,2929.7 1211.2,2933.4 1206.8,2935.4 1203.1,2938.3 1198.5,2940.3 1194.5,2943.3 1190.1,2946 1185.3,2948.2 1180.6,2950.6 1175.7,2953.2 1170.9,2956.3 1166.6,2960.3 1160.8,2962.1 1156.1,2966.2 1150.8,2969.6 1145.2,2972.9 1138.8,2975.3 1133.2,2979.3 1128.3,2984.9 1121.2,2987.4 1114.4,2990.8 1108.1,2995.5 1101.1,2999.7 1093.6,3003.6 1085.7,3007.3 1077.7,3011.7 1069.2,3015.9 1060,3020 1037.2,3018.7 1004.6,3029.1 964.6,3041 905.3,3051.3 777.3,3060.2" fill="none" stroke="none" marker-start="url(#m14)" marker-mid="url(#m14)" marker-end="url(#m14)"/>
<path d="M879.9,3058.7L905.5,3057.3M976,3051.1L994.6,3048.6M1041.1,3032.9L1055.7,3024.5" stroke="#F5A30A" stroke-width="5.0" fill="none"/>
<polyline points="1638,2677.4 1637.5,2676.8 1636.6,2680 1633.6,2679.9 1631.4,2681.2 1630,2683.6 1627,2683.5 1625.5,2685.8 1623.3,2687.1 1620.7,2687.5 1618.5,2688.9 1617.2,2691.5 1613.6,2690.4 1612.7,2693.8 1609.7,2693.6 1608.5,2696.4 1605,2695.5 1604.4,2699.2 1600.9,2698.5 1600.7,2702.7 1596.6,2701 1596.8,2706 1592.2,2703.4 1592.4,2708.3 1588,2706 1588.2,2711 1583.5,2708.2 1584.5,2714.5 1579.2,2710.8 1579.9,2716.6 1574.9,2713.5 1575.9,2719.6 1570.6,2716.1 1571.1,2721.4 1567,2719.6 1567.8,2725.6 1561.9,2720.9 1563.2,2727.7 1557.6,2723.6 1559.1,2730.4 1553,2725.7 1555.9,2734.8 1548.9,2728.6 1550.9,2736.2 1544.8,2731.4 1547.2,2739.8 1540,2733.3 1542.7,2742 1535.4,2735.3 1538.8,2745.1 1532.1,2739.3 1535,2748.4 1528.1,2742.5 1530.5,2750.7 1523.2,2744.1 1526.2,2753.3 1519.2,2747.1 1523,2757.4 1515.3,2750.3 1517.9,2758.8 1510.5,2752 1513.7,2761.5 1506,2754.3 1509.7,2764.5 1502.7,2758.5 1505.7,2767.6 1498.7,2761.4 1501.3,2770 1494.2,2763.8 1496.9,2772.3 1490.4,2767.1 1493.3,2775.9 1485.9,2769.4 1489,2778.3 1480.8,2770.8 1485.2,2781.7 1477.9,2775.5 1481.5,2785 1472.9,2777.1 1476.7,2786.9 1469.7,2781.2 1472.6,2789.8 1465,2783.2 1468.7,2792.8 1461,2786.3 1464,2794.9 1456.4,2788.4 1460.2,2798.2 1453,2792.3 1456.2,2801.2 1448.8,2795 1452.9,2805.2 1444.4,2797.4 1448.7,2807.9 1440.2,2800.2 1444.5,2810.7 1436.8,2804 1439.7,2812.6 1431.6,2805.3 1435.4,2815.3 1428.2,2809.3 1431.4,2818.7 1423.8,2812.4 1427,2821.9 1418.3,2814.1 1422.2,2824.9 1413.9,2817.8 1417.1,2827.9 1408.9,2820.9 1412.3,2831.7 1404.6,2825.6 1407.2,2835.7 1398.6,2828.4 1400.7,2838.1 1392.5,2831.3 1394.9,2842 1387.3,2836.5 1388.5,2845.7 1380.4,2839.7 1382.3,2850.6 1373.5,2843.7 1374.3,2853.2 1366.3,2848.1 1367.5,2858.9 1358.1,2851.8 1359.3,2863.2 1349.9,2856.7 1350.8,2868.4 1341.5,2862.7 1342.3,2874.9 1331.9,2868.3 1332,2879.9 1321.8,2874.7 1321.5,2886.7 1310.6,2881.6 1308.9,2892.4 1299.2,2890.6 1295,2898.8 1285.7,2899.1 1279.9,2906.6 1270.8,2909.6 1262.4,2915 1244.2,2925.5 1217.9,2939.7 1188.6,2955.9 1157.2,2973 1121.9,2994.3 1077.4,3012 1019.4,3045.4 951.2,3054.3 930.5,3055.8 854.9,3060.2" fill="none" stroke="none" marker-start="url(#m15)" marker-mid="url(#m15)" marker-end="url(#m15)"/>
</g>
<line x1="1649" y1="2654" x2="1713.6" y2="2758" stroke="#9400D3" stroke-width="4.2"/>
<g stroke="#000" fill="none" stroke-width="4.3">
<rect x="365.8" y="1810.3" width="1546.3" height="1257.9"/>
<line x1="339" y1="1810.3" x2="365.8" y2="1810.3"/><line x1="1886.8" y1="1810.3" x2="1912.1" y2="1810.3"/><line x1="351" y1="1936.1" x2="365.8" y2="1936.1"/><line x1="1897.8" y1="1936.1" x2="1912.1" y2="1936.1"/><line x1="339" y1="2061.9" x2="365.8" y2="2061.9"/><line x1="1886.8" y1="2061.9" x2="1912.1" y2="2061.9"/><line x1="351" y1="2187.7" x2="365.8" y2="2187.7"/><line x1="1897.8" y1="2187.7" x2="1912.1" y2="2187.7"/><line x1="339" y1="2313.5" x2="365.8" y2="2313.5"/><line x1="1886.8" y1="2313.5" x2="1912.1" y2="2313.5"/><line x1="351" y1="2439.2" x2="365.8" y2="2439.2"/><line x1="1897.8" y1="2439.2" x2="1912.1" y2="2439.2"/><line x1="339" y1="2565" x2="365.8" y2="2565"/><line x1="1886.8" y1="2565" x2="1912.1" y2="2565"/><line x1="351" y1="2690.8" x2="365.8" y2="2690.8"/><line x1="1897.8" y1="2690.8" x2="1912.1" y2="2690.8"/><line x1="339" y1="2816.6" x2="365.8" y2="2816.6"/><line x1="1886.8" y1="2816.6" x2="1912.1" y2="2816.6"/><line x1="351" y1="2942.4" x2="365.8" y2="2942.4"/><line x1="1897.8" y1="2942.4" x2="1912.1" y2="2942.4"/><line x1="339" y1="3068.2" x2="365.8" y2="3068.2"/><line x1="1886.8" y1="3068.2" x2="1912.1" y2="3068.2"/><line x1="365.8" y1="3068.2" x2="365.8" y2="3094"/><line x1="476.2" y1="3068.2" x2="476.2" y2="3081.5"/><line x1="586.7" y1="3068.2" x2="586.7" y2="3094"/><line x1="697.2" y1="3068.2" x2="697.2" y2="3081.5"/><line x1="807.6" y1="3068.2" x2="807.6" y2="3094"/><line x1="918" y1="3068.2" x2="918" y2="3081.5"/><line x1="1028.5" y1="3068.2" x2="1028.5" y2="3094"/><line x1="1139" y1="3068.2" x2="1139" y2="3081.5"/><line x1="1249.4" y1="3068.2" x2="1249.4" y2="3094"/><line x1="1359.9" y1="3068.2" x2="1359.9" y2="3081.5"/><line x1="1470.3" y1="3068.2" x2="1470.3" y2="3094"/><line x1="1580.8" y1="3068.2" x2="1580.8" y2="3081.5"/><line x1="1691.2" y1="3068.2" x2="1691.2" y2="3094"/><line x1="1801.7" y1="3068.2" x2="1801.7" y2="3081.5"/><line x1="1912.1" y1="3068.2" x2="1912.1" y2="3094"/><line x1="365.8" y1="1810.3" x2="365.8" y2="1835.6"/><line x1="520.4" y1="1810.3" x2="520.4" y2="1824.6"/><line x1="675.1" y1="1810.3" x2="675.1" y2="1835.6"/><line x1="829.7" y1="1810.3" x2="829.7" y2="1824.6"/><line x1="984.3" y1="1810.3" x2="984.3" y2="1835.6"/><line x1="1139" y1="1810.3" x2="1139" y2="1824.6"/><line x1="1293.6" y1="1810.3" x2="1293.6" y2="1835.6"/><line x1="1448.2" y1="1810.3" x2="1448.2" y2="1824.6"/><line x1="1602.8" y1="1810.3" x2="1602.8" y2="1835.6"/><line x1="1757.5" y1="1810.3" x2="1757.5" y2="1824.6"/><line x1="1912.1" y1="1810.3" x2="1912.1" y2="1835.6"/></g>
<g font-size="47" fill="#000" stroke="#000" stroke-width="0.6">
<text transform="translate(322.5,1821.6) scale(1,1.07)" text-anchor="end">1.0</text><text transform="translate(322.5,2073.2) scale(1,1.07)" text-anchor="end">0.8</text><text transform="translate(322.5,2324.8) scale(1,1.07)" text-anchor="end">0.6</text><text transform="translate(322.5,2576.3) scale(1,1.07)" text-anchor="end">0.4</text><text transform="translate(322.5,2827.9) scale(1,1.07)" text-anchor="end">0.2</text><text transform="translate(322.5,3079.5) scale(1,1.07)" text-anchor="end">0.0</text><text transform="translate(363.3,3147.3) scale(1,1.07)" text-anchor="middle">-6</text><text transform="translate(584.2,3147.3) scale(1,1.07)" text-anchor="middle">-5</text><text transform="translate(805.1,3147.3) scale(1,1.07)" text-anchor="middle">-4</text><text transform="translate(1026,3147.3) scale(1,1.07)" text-anchor="middle">-3</text><text transform="translate(1246.9,3147.3) scale(1,1.07)" text-anchor="middle">-2</text><text transform="translate(1467.8,3147.3) scale(1,1.07)" text-anchor="middle">-1</text><text transform="translate(1691.2,3147.3) scale(1,1.07)" text-anchor="middle">0</text><text transform="translate(1912.1,3147.3) scale(1,1.07)" text-anchor="middle">1</text></g>
<g class="b" font-size="54" text-anchor="middle">
<text x="1269" y="1923.7" fill="#000000">1</text><text x="1368.6" y="2282.6" fill="#FF0000">2</text><text x="1333.7" y="2356.5" fill="#008080">3</text><text x="1394.6" y="2347.4" fill="#0000FF">4</text><text x="1455" y="2341.9" fill="#000080">5</text><text x="1552" y="2327.3" fill="#FF00FF">6</text><text x="1555.7" y="2407.4" fill="#808080">7</text><text x="1616.2" y="2424.5" fill="#808000">8</text><text x="1612.7" y="2495.8" fill="#0000CD">9</text><text x="1732.3" y="2392.8" fill="#8B008B">10</text><text x="1813.9" y="2548.2" fill="#960000">11</text><text x="1763.7" y="2612.2" fill="#008000">12</text><text x="1708.4" y="2684.7" fill="#FF0F8A">13</text><text x="1753.7" y="2780" fill="#9400D3">14</text><text x="1615.4" y="2766.5" fill="#F5A30A">15</text></g>
<text class="b" x="396" y="1911" font-size="72">(b)</text>
<text class="b" font-size="96" word-spacing="2.7" transform="translate(221,2897.5) rotate(-90) scale(1,1.09)">Overpotential / V</text>
<text class="b" font-size="97" word-spacing="2.0" transform="translate(780,3273.2) scale(1,1.02)">log ( <tspan class="bi">j</tspan> / A cm<tspan font-size="54" dy="-53" dx="2">-2</tspan><tspan dy="53">)</tspan></text>
</g>
</svg>
</body></html>
